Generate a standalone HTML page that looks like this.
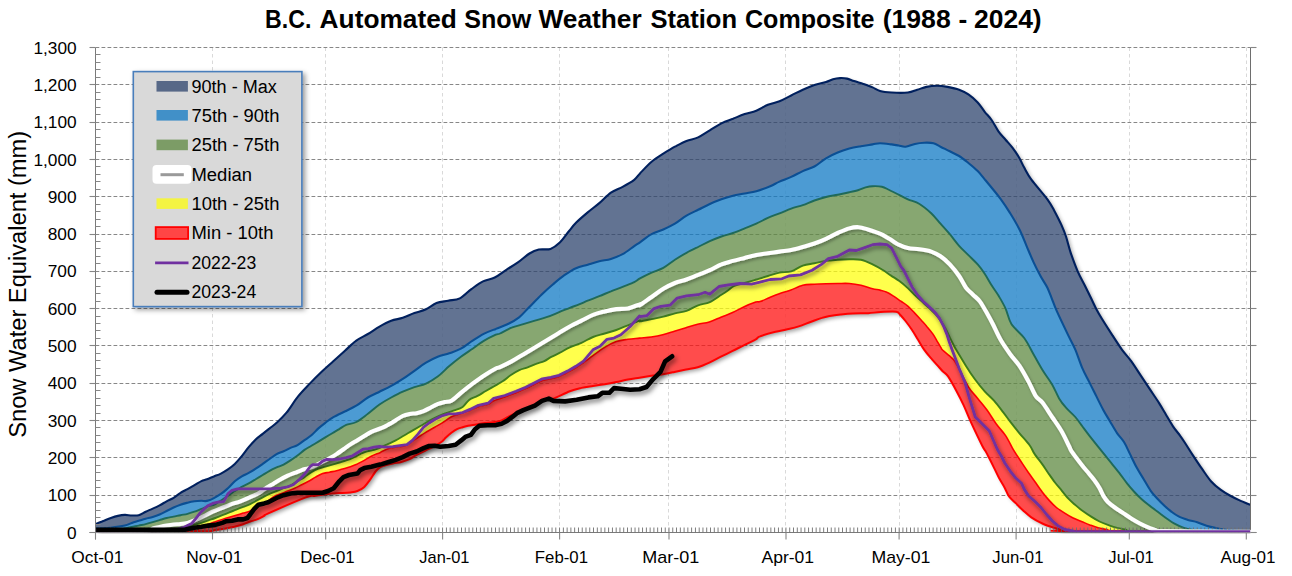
<!DOCTYPE html>
<html><head><meta charset="utf-8"><title>B.C. Automated Snow Weather Station Composite</title>
<style>
html,body{margin:0;padding:0;background:#fff;}
svg{display:block;}
text{font-family:"Liberation Sans",sans-serif;fill:#000;}
.tk{font-size:17px;}
.lg{font-size:18px;}
</style></head><body>
<svg width="1292" height="576" viewBox="0 0 1292 576">
<defs>
<filter id="sh" x="-5%" y="-5%" width="110%" height="115%"><feGaussianBlur stdDeviation="2.2"/></filter>
<filter id="lsh" x="-5%" y="-20%" width="110%" height="140%"><feDropShadow dx="1.5" dy="2" stdDeviation="1.8" flood-color="#000" flood-opacity="0.3"/></filter>
<filter id="bsh" x="-5%" y="-5%" width="112%" height="112%"><feDropShadow dx="2.5" dy="2.5" stdDeviation="2.5" flood-color="#000" flood-opacity="0.4"/></filter>

<clipPath id="un"><path d="M95.6,524.2C95.9,524.0 96.3,523.7 97.7,523.1C99.1,522.5 101.7,521.6 103.9,520.8C106.1,519.9 108.6,518.8 110.9,518.0C113.2,517.2 115.6,516.4 117.9,515.9C120.2,515.4 122.5,515.0 124.8,514.9C127.1,514.8 129.5,515.5 131.8,515.5C134.1,515.5 136.4,515.8 138.7,515.2C141.0,514.6 143.4,512.8 145.7,511.7C148.0,510.6 150.4,509.7 152.7,508.6C155.0,507.6 157.3,506.6 159.6,505.4C161.9,504.2 164.3,502.6 166.6,501.3C168.9,500.0 171.3,499.2 173.6,497.8C175.9,496.4 178.2,494.3 180.5,492.9C182.8,491.4 185.2,490.4 187.5,489.1C189.8,487.8 192.2,486.5 194.5,485.2C196.8,483.9 199.3,482.1 201.4,481.1C203.5,480.1 204.9,480.0 207.0,479.2C209.1,478.4 211.6,477.3 213.9,476.4C216.2,475.5 218.6,474.8 220.9,473.6C223.2,472.4 225.6,471.0 227.9,469.4C230.2,467.8 232.5,466.1 234.8,463.9C237.1,461.7 239.5,459.0 241.8,456.2C244.1,453.4 246.4,450.0 248.7,447.2C251.0,444.4 253.4,441.7 255.7,439.5C258.0,437.3 260.4,435.8 262.7,433.9C265.0,432.0 267.3,430.2 269.6,428.4C271.9,426.5 273.8,425.4 276.6,422.8C279.4,420.2 282.9,417.1 286.5,412.7C290.1,408.3 294.2,401.2 298.1,396.4C302.0,391.5 305.9,387.7 309.8,383.6C313.7,379.5 317.5,375.7 321.4,372.0C325.3,368.3 329.1,365.0 333.0,361.5C336.9,358.0 340.8,354.5 344.7,351.0C348.6,347.5 352.4,343.4 356.3,340.6C360.2,337.8 364.0,336.3 367.9,334.0C371.8,331.7 375.6,328.8 379.5,326.6C383.4,324.4 387.3,322.3 391.2,320.8C395.1,319.3 398.9,319.1 402.8,317.8C406.7,316.5 410.5,314.5 414.4,313.1C418.3,311.7 422.3,310.9 426.0,309.2C429.7,307.5 432.8,304.5 436.5,303.1C440.2,301.7 444.2,301.5 448.1,300.7C452.0,299.9 455.9,300.3 459.8,298.4C463.7,296.5 467.5,291.9 471.4,289.1C475.3,286.3 479.1,283.3 483.0,281.4C486.9,279.5 490.8,279.4 494.7,277.5C498.6,275.6 502.4,272.3 506.3,269.8C510.2,267.3 514.0,265.1 517.9,262.4C521.8,259.7 526.0,255.6 529.5,253.5C533.0,251.4 535.3,250.4 538.8,249.6C542.3,248.8 547.0,250.1 550.5,248.9C554.0,247.7 556.7,245.6 559.8,242.6C562.9,239.6 566.4,234.3 569.1,231.0C571.8,227.7 572.9,225.9 576.0,222.8C579.1,219.7 583.8,215.7 587.7,212.4C591.6,209.1 595.4,206.4 599.3,203.1C603.2,199.8 607.0,195.3 610.9,192.6C614.8,189.9 618.7,188.9 622.6,186.8C626.5,184.7 631.3,182.0 634.2,179.8C637.1,177.6 637.1,176.4 640.0,173.4C642.9,170.4 647.7,165.1 651.6,161.8C655.5,158.5 659.4,156.2 663.3,153.7C667.2,151.2 671.0,148.8 674.9,146.7C678.8,144.6 682.6,142.4 686.5,140.9C690.4,139.4 694.2,139.2 698.1,137.4C702.0,135.7 705.9,132.7 709.8,130.4C713.7,128.1 717.5,125.3 721.4,123.4C725.3,121.5 729.1,120.3 733.0,118.8C736.9,117.2 740.8,115.4 744.7,114.1C748.6,112.8 752.4,112.2 756.3,110.7C760.2,109.2 764.0,106.4 767.9,104.8C771.8,103.2 775.6,102.8 779.5,101.3C783.4,99.8 787.3,97.4 791.2,95.5C795.1,93.6 798.9,91.4 802.8,89.7C806.7,88.0 810.5,86.4 814.4,85.1C818.3,83.8 822.9,83.0 826.0,82.0C829.1,81.0 830.7,80.0 833.0,79.3C835.3,78.6 837.7,78.2 840.0,78.1C842.3,78.0 844.7,78.1 847.0,78.6C849.3,79.1 851.3,80.2 854.0,81.1C856.7,82.0 860.2,82.9 863.3,83.9C866.4,85.0 869.8,86.2 872.6,87.4C875.4,88.6 876.8,90.1 880.0,90.9C883.2,91.8 887.0,92.2 891.6,92.5C896.2,92.8 903.6,93.0 907.9,92.5C912.2,92.0 914.1,90.6 917.2,89.7C920.3,88.8 923.2,87.6 926.5,86.9C929.8,86.2 933.5,85.8 937.0,85.8C940.5,85.8 943.7,86.2 947.4,86.9C951.1,87.6 955.6,88.5 959.1,89.7C962.6,91.0 965.3,92.3 968.4,94.4C971.5,96.5 975.0,99.6 977.7,102.5C980.4,105.4 982.4,108.9 984.7,111.8C987.0,114.7 989.3,116.7 991.6,120.0C993.9,123.3 996.3,128.3 998.6,131.6C1000.9,134.9 1003.3,137.0 1005.6,139.7C1007.9,142.4 1010.3,144.8 1012.6,147.9C1014.9,151.0 1017.6,155.0 1019.5,158.3C1021.4,161.6 1022.2,164.1 1024.2,167.6C1026.2,171.1 1027.3,174.0 1031.2,179.3C1035.1,184.6 1043.5,194.0 1047.4,199.3C1051.3,204.6 1052.1,206.6 1054.4,210.9C1056.7,215.2 1059.5,220.6 1061.4,224.9C1063.3,229.2 1064.5,231.8 1066.0,236.5C1067.5,241.2 1068.8,247.0 1070.7,252.8C1072.7,258.6 1075.4,266.0 1077.7,271.4C1080.0,276.8 1082.4,280.6 1084.7,285.3C1087.0,290.0 1089.3,294.6 1091.6,299.3C1093.9,304.0 1095.1,307.2 1098.6,313.3C1102.1,319.4 1108.7,329.6 1112.6,335.6C1116.5,341.7 1118.8,345.3 1121.9,349.6C1125.0,353.9 1128.1,356.9 1131.2,361.2C1134.3,365.5 1137.4,370.5 1140.5,375.2C1143.6,379.9 1146.7,384.5 1149.8,389.1C1152.9,393.8 1156.4,398.8 1159.1,403.1C1161.8,407.4 1163.7,410.8 1166.0,414.7C1168.3,418.6 1170.7,422.8 1173.0,426.3C1175.3,429.8 1178.1,433.0 1180.0,435.6C1181.9,438.2 1182.3,438.8 1184.4,442.0C1186.5,445.2 1189.7,450.4 1192.6,454.8C1195.5,459.2 1198.8,464.2 1201.9,468.7C1205.0,473.1 1208.1,478.0 1211.2,481.5C1214.3,485.0 1217.4,487.4 1220.5,489.7C1223.6,492.0 1226.7,493.8 1229.8,495.5C1232.9,497.2 1235.7,498.6 1239.1,500.1C1242.5,501.7 1248.3,504.0 1250.2,504.8L1250.2,531.8C1219.5,531.7 1097.5,531.4 1066.1,531.1C1034.7,530.8 1064.0,530.7 1061.9,530.1C1059.8,529.5 1056.8,528.8 1053.6,527.7C1050.3,526.6 1046.1,525.2 1042.4,523.5C1038.7,521.8 1034.5,519.5 1031.3,517.3C1028.0,515.1 1025.5,512.6 1022.9,510.3C1020.4,508.0 1018.3,505.7 1016.0,503.4C1013.7,501.1 1010.9,499.0 1009.0,496.4C1007.1,493.8 1006.4,491.0 1004.8,488.0C1003.2,485.0 1001.1,481.8 999.2,478.3C997.4,474.8 995.6,470.8 993.7,467.1C991.9,463.4 989.5,458.6 988.1,456.0C986.8,453.4 986.6,453.1 985.6,451.3C984.6,449.6 984.6,450.4 982.1,445.5C979.6,440.6 973.8,428.4 970.7,421.7C967.6,415.0 966.0,410.4 963.7,405.4C961.4,400.3 959.3,396.2 956.7,391.4C954.1,386.6 950.4,379.8 948.1,376.4C945.8,373.0 944.6,373.3 942.7,371.3C940.8,369.3 938.6,366.6 936.5,364.3C934.4,362.0 932.4,359.8 930.3,357.3C928.2,354.9 926.2,352.6 924.1,349.6C922.0,346.6 920.0,342.9 917.9,339.5C915.8,336.1 913.8,332.6 911.7,329.5C909.6,326.4 907.4,323.4 905.5,321.0C903.6,318.6 901.6,316.4 900.1,314.8C898.6,313.2 899.4,312.2 896.2,311.7C893.0,311.2 885.3,311.8 880.7,312.0C876.1,312.2 873.0,312.9 868.4,313.2C863.8,313.4 857.5,313.3 852.9,313.5C848.2,313.7 844.4,314.1 840.5,314.5C836.6,314.9 832.8,315.4 829.7,316.0C826.6,316.6 825.0,316.9 821.9,317.9C818.8,318.8 815.0,320.3 811.1,321.7C807.2,323.1 802.8,325.1 798.7,326.4C794.6,327.7 790.2,328.6 786.3,329.5C782.4,330.4 779.9,330.7 775.5,331.8C771.1,332.9 763.3,335.1 760.0,336.4C756.7,337.6 758.4,337.9 755.8,339.3C753.2,340.8 748.1,343.2 744.2,345.1C740.3,347.0 736.5,349.0 732.6,350.9C728.7,352.8 724.8,354.8 720.9,356.7C717.0,358.6 713.2,360.9 709.3,362.6C705.4,364.4 701.6,366.1 697.7,367.2C693.8,368.3 689.9,368.7 686.0,369.5C682.1,370.3 678.3,371.1 674.4,371.9C670.5,372.7 666.7,373.5 662.8,374.2C658.9,374.9 655.1,375.2 651.2,375.8C647.3,376.4 643.4,377.1 639.5,377.7C635.6,378.3 631.8,378.8 627.9,379.5C624.0,380.2 620.2,381.3 616.3,382.1C612.4,382.9 608.6,383.6 604.7,384.2C600.8,384.8 596.9,385.4 593.0,386.0C589.1,386.6 585.3,387.0 581.4,387.9C577.5,388.8 574.4,389.4 569.8,391.2C565.1,393.0 557.0,397.4 553.5,398.6C550.0,399.8 550.7,398.2 548.8,398.6C546.9,399.0 544.2,399.7 541.9,400.9C539.6,402.1 538.0,404.1 534.9,405.6C531.8,407.2 526.8,408.8 523.3,410.2C519.8,411.6 516.8,412.7 514.1,413.9C511.4,415.1 509.4,416.2 507.1,417.4C504.8,418.6 502.5,420.1 500.2,420.9C497.9,421.7 495.8,421.9 493.2,422.3C490.6,422.7 487.6,422.6 484.8,423.0C482.0,423.4 479.3,423.9 476.5,424.4C473.7,424.9 470.4,425.3 468.1,425.8C465.8,426.3 464.5,426.6 462.6,427.2C460.8,427.8 458.9,428.3 457.0,429.2C455.1,430.1 453.3,431.3 451.4,432.7C449.5,434.1 447.4,436.1 445.8,437.6C444.2,439.1 443.6,440.4 441.7,441.8C439.8,443.2 437.2,444.6 434.7,446.0C432.1,447.4 428.7,449.0 426.4,450.1C424.1,451.2 422.7,452.0 420.8,452.9C418.9,453.8 417.1,454.6 415.2,455.7C413.3,456.8 411.9,458.1 409.6,459.2C407.3,460.2 404.1,461.3 401.3,462.0C398.5,462.7 395.7,462.8 392.9,463.4C390.1,464.0 386.8,464.8 384.6,465.5C382.4,466.2 381.4,466.4 379.9,467.4C378.4,468.4 377.2,469.4 375.5,471.5C373.8,473.6 371.8,477.3 369.9,479.9C368.0,482.5 366.4,485.0 364.3,486.9C362.2,488.8 359.7,490.1 357.4,491.0C355.1,491.9 353.4,492.0 350.4,492.4C347.4,492.8 342.8,492.9 339.3,493.1C335.8,493.3 332.3,493.5 329.5,493.8C326.7,494.1 325.2,494.5 322.6,494.8C320.1,495.1 317.0,495.5 314.2,495.9C311.4,496.3 313.4,494.5 305.8,497.4C298.2,500.3 275.2,510.3 268.3,513.4C261.4,516.5 266.0,514.9 264.1,515.9C262.2,516.9 259.4,518.5 257.1,519.4C254.8,520.3 252.5,520.7 250.2,521.5C247.9,522.3 245.5,523.4 243.2,524.2C240.9,525.0 238.5,525.7 236.2,526.3C233.9,526.9 231.6,527.2 229.3,527.7C227.0,528.2 225.1,528.6 222.3,529.1C219.5,529.6 216.1,530.1 212.6,530.5C209.1,530.9 220.9,531.0 201.4,531.2C181.9,531.4 113.2,531.5 95.6,531.6Z"/></clipPath>
<clipPath id="plot"><rect x="95.5" y="45.5" width="1155.0" height="488.2"/></clipPath>
<clipPath id="plot2"><rect x="96.1" y="45.5" width="1155.0" height="486.7"/></clipPath>
<filter id="psh" x="-5%" y="-20%" width="110%" height="140%"><feDropShadow dx="1.5" dy="2.5" stdDeviation="2.2" flood-color="#000" flood-opacity="0.5"/></filter>
<filter id="ksh" x="-5%" y="-20%" width="110%" height="140%"><feDropShadow dx="2" dy="3" stdDeviation="2.4" flood-color="#000" flood-opacity="0.5"/></filter>
</defs>
<rect width="1292" height="576" fill="#fff"/>
<g id="grid"><line x1="212.5" y1="47.5" x2="212.5" y2="531.7" stroke="#d9d9d9" stroke-width="1" stroke-dasharray="3.5 3"/>
<line x1="325.5" y1="47.5" x2="325.5" y2="531.7" stroke="#d9d9d9" stroke-width="1" stroke-dasharray="3.5 3"/>
<line x1="442.5" y1="47.5" x2="442.5" y2="531.7" stroke="#d9d9d9" stroke-width="1" stroke-dasharray="3.5 3"/>
<line x1="559.5" y1="47.5" x2="559.5" y2="531.7" stroke="#d9d9d9" stroke-width="1" stroke-dasharray="3.5 3"/>
<line x1="668.5" y1="47.5" x2="668.5" y2="531.7" stroke="#d9d9d9" stroke-width="1" stroke-dasharray="3.5 3"/>
<line x1="785.5" y1="47.5" x2="785.5" y2="531.7" stroke="#d9d9d9" stroke-width="1" stroke-dasharray="3.5 3"/>
<line x1="899.5" y1="47.5" x2="899.5" y2="531.7" stroke="#d9d9d9" stroke-width="1" stroke-dasharray="3.5 3"/>
<line x1="1016.5" y1="47.5" x2="1016.5" y2="531.7" stroke="#d9d9d9" stroke-width="1" stroke-dasharray="3.5 3"/>
<line x1="1129.5" y1="47.5" x2="1129.5" y2="531.7" stroke="#d9d9d9" stroke-width="1" stroke-dasharray="3.5 3"/>
<line x1="1246.5" y1="47.5" x2="1246.5" y2="531.7" stroke="#d9d9d9" stroke-width="1" stroke-dasharray="3.5 3"/>
<line x1="95.5" y1="495.5" x2="1250.5" y2="495.5" stroke="#878787" stroke-width="1" stroke-dasharray="3.8 2.2"/>
<line x1="95.5" y1="457.5" x2="1250.5" y2="457.5" stroke="#878787" stroke-width="1" stroke-dasharray="3.8 2.2"/>
<line x1="95.5" y1="420.5" x2="1250.5" y2="420.5" stroke="#878787" stroke-width="1" stroke-dasharray="3.8 2.2"/>
<line x1="95.5" y1="383.5" x2="1250.5" y2="383.5" stroke="#878787" stroke-width="1" stroke-dasharray="3.8 2.2"/>
<line x1="95.5" y1="345.5" x2="1250.5" y2="345.5" stroke="#878787" stroke-width="1" stroke-dasharray="3.8 2.2"/>
<line x1="95.5" y1="308.5" x2="1250.5" y2="308.5" stroke="#878787" stroke-width="1" stroke-dasharray="3.8 2.2"/>
<line x1="95.5" y1="271.5" x2="1250.5" y2="271.5" stroke="#878787" stroke-width="1" stroke-dasharray="3.8 2.2"/>
<line x1="95.5" y1="234.5" x2="1250.5" y2="234.5" stroke="#878787" stroke-width="1" stroke-dasharray="3.8 2.2"/>
<line x1="95.5" y1="196.5" x2="1250.5" y2="196.5" stroke="#878787" stroke-width="1" stroke-dasharray="3.8 2.2"/>
<line x1="95.5" y1="159.5" x2="1250.5" y2="159.5" stroke="#878787" stroke-width="1" stroke-dasharray="3.8 2.2"/>
<line x1="95.5" y1="122.5" x2="1250.5" y2="122.5" stroke="#878787" stroke-width="1" stroke-dasharray="3.8 2.2"/>
<line x1="95.5" y1="84.5" x2="1250.5" y2="84.5" stroke="#878787" stroke-width="1" stroke-dasharray="3.8 2.2"/>
<line x1="95.5" y1="47.5" x2="1250.5" y2="47.5" stroke="#878787" stroke-width="1" stroke-dasharray="3.8 2.2"/></g>
<g clip-path="url(#plot)"><path d="M95.6,524.2C95.9,524.0 96.3,523.7 97.7,523.1C99.1,522.5 101.7,521.6 103.9,520.8C106.1,519.9 108.6,518.8 110.9,518.0C113.2,517.2 115.6,516.4 117.9,515.9C120.2,515.4 122.5,515.0 124.8,514.9C127.1,514.8 129.5,515.5 131.8,515.5C134.1,515.5 136.4,515.8 138.7,515.2C141.0,514.6 143.4,512.8 145.7,511.7C148.0,510.6 150.4,509.7 152.7,508.6C155.0,507.6 157.3,506.6 159.6,505.4C161.9,504.2 164.3,502.6 166.6,501.3C168.9,500.0 171.3,499.2 173.6,497.8C175.9,496.4 178.2,494.3 180.5,492.9C182.8,491.4 185.2,490.4 187.5,489.1C189.8,487.8 192.2,486.5 194.5,485.2C196.8,483.9 199.3,482.1 201.4,481.1C203.5,480.1 204.9,480.0 207.0,479.2C209.1,478.4 211.6,477.3 213.9,476.4C216.2,475.5 218.6,474.8 220.9,473.6C223.2,472.4 225.6,471.0 227.9,469.4C230.2,467.8 232.5,466.1 234.8,463.9C237.1,461.7 239.5,459.0 241.8,456.2C244.1,453.4 246.4,450.0 248.7,447.2C251.0,444.4 253.4,441.7 255.7,439.5C258.0,437.3 260.4,435.8 262.7,433.9C265.0,432.0 267.3,430.2 269.6,428.4C271.9,426.5 273.8,425.4 276.6,422.8C279.4,420.2 282.9,417.1 286.5,412.7C290.1,408.3 294.2,401.2 298.1,396.4C302.0,391.5 305.9,387.7 309.8,383.6C313.7,379.5 317.5,375.7 321.4,372.0C325.3,368.3 329.1,365.0 333.0,361.5C336.9,358.0 340.8,354.5 344.7,351.0C348.6,347.5 352.4,343.4 356.3,340.6C360.2,337.8 364.0,336.3 367.9,334.0C371.8,331.7 375.6,328.8 379.5,326.6C383.4,324.4 387.3,322.3 391.2,320.8C395.1,319.3 398.9,319.1 402.8,317.8C406.7,316.5 410.5,314.5 414.4,313.1C418.3,311.7 422.3,310.9 426.0,309.2C429.7,307.5 432.8,304.5 436.5,303.1C440.2,301.7 444.2,301.5 448.1,300.7C452.0,299.9 455.9,300.3 459.8,298.4C463.7,296.5 467.5,291.9 471.4,289.1C475.3,286.3 479.1,283.3 483.0,281.4C486.9,279.5 490.8,279.4 494.7,277.5C498.6,275.6 502.4,272.3 506.3,269.8C510.2,267.3 514.0,265.1 517.9,262.4C521.8,259.7 526.0,255.6 529.5,253.5C533.0,251.4 535.3,250.4 538.8,249.6C542.3,248.8 547.0,250.1 550.5,248.9C554.0,247.7 556.7,245.6 559.8,242.6C562.9,239.6 566.4,234.3 569.1,231.0C571.8,227.7 572.9,225.9 576.0,222.8C579.1,219.7 583.8,215.7 587.7,212.4C591.6,209.1 595.4,206.4 599.3,203.1C603.2,199.8 607.0,195.3 610.9,192.6C614.8,189.9 618.7,188.9 622.6,186.8C626.5,184.7 631.3,182.0 634.2,179.8C637.1,177.6 637.1,176.4 640.0,173.4C642.9,170.4 647.7,165.1 651.6,161.8C655.5,158.5 659.4,156.2 663.3,153.7C667.2,151.2 671.0,148.8 674.9,146.7C678.8,144.6 682.6,142.4 686.5,140.9C690.4,139.4 694.2,139.2 698.1,137.4C702.0,135.7 705.9,132.7 709.8,130.4C713.7,128.1 717.5,125.3 721.4,123.4C725.3,121.5 729.1,120.3 733.0,118.8C736.9,117.2 740.8,115.4 744.7,114.1C748.6,112.8 752.4,112.2 756.3,110.7C760.2,109.2 764.0,106.4 767.9,104.8C771.8,103.2 775.6,102.8 779.5,101.3C783.4,99.8 787.3,97.4 791.2,95.5C795.1,93.6 798.9,91.4 802.8,89.7C806.7,88.0 810.5,86.4 814.4,85.1C818.3,83.8 822.9,83.0 826.0,82.0C829.1,81.0 830.7,80.0 833.0,79.3C835.3,78.6 837.7,78.2 840.0,78.1C842.3,78.0 844.7,78.1 847.0,78.6C849.3,79.1 851.3,80.2 854.0,81.1C856.7,82.0 860.2,82.9 863.3,83.9C866.4,85.0 869.8,86.2 872.6,87.4C875.4,88.6 876.8,90.1 880.0,90.9C883.2,91.8 887.0,92.2 891.6,92.5C896.2,92.8 903.6,93.0 907.9,92.5C912.2,92.0 914.1,90.6 917.2,89.7C920.3,88.8 923.2,87.6 926.5,86.9C929.8,86.2 933.5,85.8 937.0,85.8C940.5,85.8 943.7,86.2 947.4,86.9C951.1,87.6 955.6,88.5 959.1,89.7C962.6,91.0 965.3,92.3 968.4,94.4C971.5,96.5 975.0,99.6 977.7,102.5C980.4,105.4 982.4,108.9 984.7,111.8C987.0,114.7 989.3,116.7 991.6,120.0C993.9,123.3 996.3,128.3 998.6,131.6C1000.9,134.9 1003.3,137.0 1005.6,139.7C1007.9,142.4 1010.3,144.8 1012.6,147.9C1014.9,151.0 1017.6,155.0 1019.5,158.3C1021.4,161.6 1022.2,164.1 1024.2,167.6C1026.2,171.1 1027.3,174.0 1031.2,179.3C1035.1,184.6 1043.5,194.0 1047.4,199.3C1051.3,204.6 1052.1,206.6 1054.4,210.9C1056.7,215.2 1059.5,220.6 1061.4,224.9C1063.3,229.2 1064.5,231.8 1066.0,236.5C1067.5,241.2 1068.8,247.0 1070.7,252.8C1072.7,258.6 1075.4,266.0 1077.7,271.4C1080.0,276.8 1082.4,280.6 1084.7,285.3C1087.0,290.0 1089.3,294.6 1091.6,299.3C1093.9,304.0 1095.1,307.2 1098.6,313.3C1102.1,319.4 1108.7,329.6 1112.6,335.6C1116.5,341.7 1118.8,345.3 1121.9,349.6C1125.0,353.9 1128.1,356.9 1131.2,361.2C1134.3,365.5 1137.4,370.5 1140.5,375.2C1143.6,379.9 1146.7,384.5 1149.8,389.1C1152.9,393.8 1156.4,398.8 1159.1,403.1C1161.8,407.4 1163.7,410.8 1166.0,414.7C1168.3,418.6 1170.7,422.8 1173.0,426.3C1175.3,429.8 1178.1,433.0 1180.0,435.6C1181.9,438.2 1182.3,438.8 1184.4,442.0C1186.5,445.2 1189.7,450.4 1192.6,454.8C1195.5,459.2 1198.8,464.2 1201.9,468.7C1205.0,473.1 1208.1,478.0 1211.2,481.5C1214.3,485.0 1217.4,487.4 1220.5,489.7C1223.6,492.0 1226.7,493.8 1229.8,495.5C1232.9,497.2 1235.7,498.6 1239.1,500.1C1242.5,501.7 1248.3,504.0 1250.2,504.8L1250.2,531.8C1219.5,531.7 1097.5,531.4 1066.1,531.1C1034.7,530.8 1064.0,530.7 1061.9,530.1C1059.8,529.5 1056.8,528.8 1053.6,527.7C1050.3,526.6 1046.1,525.2 1042.4,523.5C1038.7,521.8 1034.5,519.5 1031.3,517.3C1028.0,515.1 1025.5,512.6 1022.9,510.3C1020.4,508.0 1018.3,505.7 1016.0,503.4C1013.7,501.1 1010.9,499.0 1009.0,496.4C1007.1,493.8 1006.4,491.0 1004.8,488.0C1003.2,485.0 1001.1,481.8 999.2,478.3C997.4,474.8 995.6,470.8 993.7,467.1C991.9,463.4 989.5,458.6 988.1,456.0C986.8,453.4 986.6,453.1 985.6,451.3C984.6,449.6 984.6,450.4 982.1,445.5C979.6,440.6 973.8,428.4 970.7,421.7C967.6,415.0 966.0,410.4 963.7,405.4C961.4,400.3 959.3,396.2 956.7,391.4C954.1,386.6 950.4,379.8 948.1,376.4C945.8,373.0 944.6,373.3 942.7,371.3C940.8,369.3 938.6,366.6 936.5,364.3C934.4,362.0 932.4,359.8 930.3,357.3C928.2,354.9 926.2,352.6 924.1,349.6C922.0,346.6 920.0,342.9 917.9,339.5C915.8,336.1 913.8,332.6 911.7,329.5C909.6,326.4 907.4,323.4 905.5,321.0C903.6,318.6 901.6,316.4 900.1,314.8C898.6,313.2 899.4,312.2 896.2,311.7C893.0,311.2 885.3,311.8 880.7,312.0C876.1,312.2 873.0,312.9 868.4,313.2C863.8,313.4 857.5,313.3 852.9,313.5C848.2,313.7 844.4,314.1 840.5,314.5C836.6,314.9 832.8,315.4 829.7,316.0C826.6,316.6 825.0,316.9 821.9,317.9C818.8,318.8 815.0,320.3 811.1,321.7C807.2,323.1 802.8,325.1 798.7,326.4C794.6,327.7 790.2,328.6 786.3,329.5C782.4,330.4 779.9,330.7 775.5,331.8C771.1,332.9 763.3,335.1 760.0,336.4C756.7,337.6 758.4,337.9 755.8,339.3C753.2,340.8 748.1,343.2 744.2,345.1C740.3,347.0 736.5,349.0 732.6,350.9C728.7,352.8 724.8,354.8 720.9,356.7C717.0,358.6 713.2,360.9 709.3,362.6C705.4,364.4 701.6,366.1 697.7,367.2C693.8,368.3 689.9,368.7 686.0,369.5C682.1,370.3 678.3,371.1 674.4,371.9C670.5,372.7 666.7,373.5 662.8,374.2C658.9,374.9 655.1,375.2 651.2,375.8C647.3,376.4 643.4,377.1 639.5,377.7C635.6,378.3 631.8,378.8 627.9,379.5C624.0,380.2 620.2,381.3 616.3,382.1C612.4,382.9 608.6,383.6 604.7,384.2C600.8,384.8 596.9,385.4 593.0,386.0C589.1,386.6 585.3,387.0 581.4,387.9C577.5,388.8 574.4,389.4 569.8,391.2C565.1,393.0 557.0,397.4 553.5,398.6C550.0,399.8 550.7,398.2 548.8,398.6C546.9,399.0 544.2,399.7 541.9,400.9C539.6,402.1 538.0,404.1 534.9,405.6C531.8,407.2 526.8,408.8 523.3,410.2C519.8,411.6 516.8,412.7 514.1,413.9C511.4,415.1 509.4,416.2 507.1,417.4C504.8,418.6 502.5,420.1 500.2,420.9C497.9,421.7 495.8,421.9 493.2,422.3C490.6,422.7 487.6,422.6 484.8,423.0C482.0,423.4 479.3,423.9 476.5,424.4C473.7,424.9 470.4,425.3 468.1,425.8C465.8,426.3 464.5,426.6 462.6,427.2C460.8,427.8 458.9,428.3 457.0,429.2C455.1,430.1 453.3,431.3 451.4,432.7C449.5,434.1 447.4,436.1 445.8,437.6C444.2,439.1 443.6,440.4 441.7,441.8C439.8,443.2 437.2,444.6 434.7,446.0C432.1,447.4 428.7,449.0 426.4,450.1C424.1,451.2 422.7,452.0 420.8,452.9C418.9,453.8 417.1,454.6 415.2,455.7C413.3,456.8 411.9,458.1 409.6,459.2C407.3,460.2 404.1,461.3 401.3,462.0C398.5,462.7 395.7,462.8 392.9,463.4C390.1,464.0 386.8,464.8 384.6,465.5C382.4,466.2 381.4,466.4 379.9,467.4C378.4,468.4 377.2,469.4 375.5,471.5C373.8,473.6 371.8,477.3 369.9,479.9C368.0,482.5 366.4,485.0 364.3,486.9C362.2,488.8 359.7,490.1 357.4,491.0C355.1,491.9 353.4,492.0 350.4,492.4C347.4,492.8 342.8,492.9 339.3,493.1C335.8,493.3 332.3,493.5 329.5,493.8C326.7,494.1 325.2,494.5 322.6,494.8C320.1,495.1 317.0,495.5 314.2,495.9C311.4,496.3 313.4,494.5 305.8,497.4C298.2,500.3 275.2,510.3 268.3,513.4C261.4,516.5 266.0,514.9 264.1,515.9C262.2,516.9 259.4,518.5 257.1,519.4C254.8,520.3 252.5,520.7 250.2,521.5C247.9,522.3 245.5,523.4 243.2,524.2C240.9,525.0 238.5,525.7 236.2,526.3C233.9,526.9 231.6,527.2 229.3,527.7C227.0,528.2 225.1,528.6 222.3,529.1C219.5,529.6 216.1,530.1 212.6,530.5C209.1,530.9 220.9,531.0 201.4,531.2C181.9,531.4 113.2,531.5 95.6,531.6Z" fill="#000" opacity="0.38" filter="url(#sh)" transform="translate(2.5,2.5)"/></g>
<path d="M95.6,524.2C95.9,524.0 96.3,523.7 97.7,523.1C99.1,522.5 101.7,521.6 103.9,520.8C106.1,519.9 108.6,518.8 110.9,518.0C113.2,517.2 115.6,516.4 117.9,515.9C120.2,515.4 122.5,515.0 124.8,514.9C127.1,514.8 129.5,515.5 131.8,515.5C134.1,515.5 136.4,515.8 138.7,515.2C141.0,514.6 143.4,512.8 145.7,511.7C148.0,510.6 150.4,509.7 152.7,508.6C155.0,507.6 157.3,506.6 159.6,505.4C161.9,504.2 164.3,502.6 166.6,501.3C168.9,500.0 171.3,499.2 173.6,497.8C175.9,496.4 178.2,494.3 180.5,492.9C182.8,491.4 185.2,490.4 187.5,489.1C189.8,487.8 192.2,486.5 194.5,485.2C196.8,483.9 199.3,482.1 201.4,481.1C203.5,480.1 204.9,480.0 207.0,479.2C209.1,478.4 211.6,477.3 213.9,476.4C216.2,475.5 218.6,474.8 220.9,473.6C223.2,472.4 225.6,471.0 227.9,469.4C230.2,467.8 232.5,466.1 234.8,463.9C237.1,461.7 239.5,459.0 241.8,456.2C244.1,453.4 246.4,450.0 248.7,447.2C251.0,444.4 253.4,441.7 255.7,439.5C258.0,437.3 260.4,435.8 262.7,433.9C265.0,432.0 267.3,430.2 269.6,428.4C271.9,426.5 273.8,425.4 276.6,422.8C279.4,420.2 282.9,417.1 286.5,412.7C290.1,408.3 294.2,401.2 298.1,396.4C302.0,391.5 305.9,387.7 309.8,383.6C313.7,379.5 317.5,375.7 321.4,372.0C325.3,368.3 329.1,365.0 333.0,361.5C336.9,358.0 340.8,354.5 344.7,351.0C348.6,347.5 352.4,343.4 356.3,340.6C360.2,337.8 364.0,336.3 367.9,334.0C371.8,331.7 375.6,328.8 379.5,326.6C383.4,324.4 387.3,322.3 391.2,320.8C395.1,319.3 398.9,319.1 402.8,317.8C406.7,316.5 410.5,314.5 414.4,313.1C418.3,311.7 422.3,310.9 426.0,309.2C429.7,307.5 432.8,304.5 436.5,303.1C440.2,301.7 444.2,301.5 448.1,300.7C452.0,299.9 455.9,300.3 459.8,298.4C463.7,296.5 467.5,291.9 471.4,289.1C475.3,286.3 479.1,283.3 483.0,281.4C486.9,279.5 490.8,279.4 494.7,277.5C498.6,275.6 502.4,272.3 506.3,269.8C510.2,267.3 514.0,265.1 517.9,262.4C521.8,259.7 526.0,255.6 529.5,253.5C533.0,251.4 535.3,250.4 538.8,249.6C542.3,248.8 547.0,250.1 550.5,248.9C554.0,247.7 556.7,245.6 559.8,242.6C562.9,239.6 566.4,234.3 569.1,231.0C571.8,227.7 572.9,225.9 576.0,222.8C579.1,219.7 583.8,215.7 587.7,212.4C591.6,209.1 595.4,206.4 599.3,203.1C603.2,199.8 607.0,195.3 610.9,192.6C614.8,189.9 618.7,188.9 622.6,186.8C626.5,184.7 631.3,182.0 634.2,179.8C637.1,177.6 637.1,176.4 640.0,173.4C642.9,170.4 647.7,165.1 651.6,161.8C655.5,158.5 659.4,156.2 663.3,153.7C667.2,151.2 671.0,148.8 674.9,146.7C678.8,144.6 682.6,142.4 686.5,140.9C690.4,139.4 694.2,139.2 698.1,137.4C702.0,135.7 705.9,132.7 709.8,130.4C713.7,128.1 717.5,125.3 721.4,123.4C725.3,121.5 729.1,120.3 733.0,118.8C736.9,117.2 740.8,115.4 744.7,114.1C748.6,112.8 752.4,112.2 756.3,110.7C760.2,109.2 764.0,106.4 767.9,104.8C771.8,103.2 775.6,102.8 779.5,101.3C783.4,99.8 787.3,97.4 791.2,95.5C795.1,93.6 798.9,91.4 802.8,89.7C806.7,88.0 810.5,86.4 814.4,85.1C818.3,83.8 822.9,83.0 826.0,82.0C829.1,81.0 830.7,80.0 833.0,79.3C835.3,78.6 837.7,78.2 840.0,78.1C842.3,78.0 844.7,78.1 847.0,78.6C849.3,79.1 851.3,80.2 854.0,81.1C856.7,82.0 860.2,82.9 863.3,83.9C866.4,85.0 869.8,86.2 872.6,87.4C875.4,88.6 876.8,90.1 880.0,90.9C883.2,91.8 887.0,92.2 891.6,92.5C896.2,92.8 903.6,93.0 907.9,92.5C912.2,92.0 914.1,90.6 917.2,89.7C920.3,88.8 923.2,87.6 926.5,86.9C929.8,86.2 933.5,85.8 937.0,85.8C940.5,85.8 943.7,86.2 947.4,86.9C951.1,87.6 955.6,88.5 959.1,89.7C962.6,91.0 965.3,92.3 968.4,94.4C971.5,96.5 975.0,99.6 977.7,102.5C980.4,105.4 982.4,108.9 984.7,111.8C987.0,114.7 989.3,116.7 991.6,120.0C993.9,123.3 996.3,128.3 998.6,131.6C1000.9,134.9 1003.3,137.0 1005.6,139.7C1007.9,142.4 1010.3,144.8 1012.6,147.9C1014.9,151.0 1017.6,155.0 1019.5,158.3C1021.4,161.6 1022.2,164.1 1024.2,167.6C1026.2,171.1 1027.3,174.0 1031.2,179.3C1035.1,184.6 1043.5,194.0 1047.4,199.3C1051.3,204.6 1052.1,206.6 1054.4,210.9C1056.7,215.2 1059.5,220.6 1061.4,224.9C1063.3,229.2 1064.5,231.8 1066.0,236.5C1067.5,241.2 1068.8,247.0 1070.7,252.8C1072.7,258.6 1075.4,266.0 1077.7,271.4C1080.0,276.8 1082.4,280.6 1084.7,285.3C1087.0,290.0 1089.3,294.6 1091.6,299.3C1093.9,304.0 1095.1,307.2 1098.6,313.3C1102.1,319.4 1108.7,329.6 1112.6,335.6C1116.5,341.7 1118.8,345.3 1121.9,349.6C1125.0,353.9 1128.1,356.9 1131.2,361.2C1134.3,365.5 1137.4,370.5 1140.5,375.2C1143.6,379.9 1146.7,384.5 1149.8,389.1C1152.9,393.8 1156.4,398.8 1159.1,403.1C1161.8,407.4 1163.7,410.8 1166.0,414.7C1168.3,418.6 1170.7,422.8 1173.0,426.3C1175.3,429.8 1178.1,433.0 1180.0,435.6C1181.9,438.2 1182.3,438.8 1184.4,442.0C1186.5,445.2 1189.7,450.4 1192.6,454.8C1195.5,459.2 1198.8,464.2 1201.9,468.7C1205.0,473.1 1208.1,478.0 1211.2,481.5C1214.3,485.0 1217.4,487.4 1220.5,489.7C1223.6,492.0 1226.7,493.8 1229.8,495.5C1232.9,497.2 1235.7,498.6 1239.1,500.1C1242.5,501.7 1248.3,504.0 1250.2,504.8L1250.2,531.8C1219.5,531.7 1097.5,531.4 1066.1,531.1C1034.7,530.8 1064.0,530.7 1061.9,530.1C1059.8,529.5 1056.8,528.8 1053.6,527.7C1050.3,526.6 1046.1,525.2 1042.4,523.5C1038.7,521.8 1034.5,519.5 1031.3,517.3C1028.0,515.1 1025.5,512.6 1022.9,510.3C1020.4,508.0 1018.3,505.7 1016.0,503.4C1013.7,501.1 1010.9,499.0 1009.0,496.4C1007.1,493.8 1006.4,491.0 1004.8,488.0C1003.2,485.0 1001.1,481.8 999.2,478.3C997.4,474.8 995.6,470.8 993.7,467.1C991.9,463.4 989.5,458.6 988.1,456.0C986.8,453.4 986.6,453.1 985.6,451.3C984.6,449.6 984.6,450.4 982.1,445.5C979.6,440.6 973.8,428.4 970.7,421.7C967.6,415.0 966.0,410.4 963.7,405.4C961.4,400.3 959.3,396.2 956.7,391.4C954.1,386.6 950.4,379.8 948.1,376.4C945.8,373.0 944.6,373.3 942.7,371.3C940.8,369.3 938.6,366.6 936.5,364.3C934.4,362.0 932.4,359.8 930.3,357.3C928.2,354.9 926.2,352.6 924.1,349.6C922.0,346.6 920.0,342.9 917.9,339.5C915.8,336.1 913.8,332.6 911.7,329.5C909.6,326.4 907.4,323.4 905.5,321.0C903.6,318.6 901.6,316.4 900.1,314.8C898.6,313.2 899.4,312.2 896.2,311.7C893.0,311.2 885.3,311.8 880.7,312.0C876.1,312.2 873.0,312.9 868.4,313.2C863.8,313.4 857.5,313.3 852.9,313.5C848.2,313.7 844.4,314.1 840.5,314.5C836.6,314.9 832.8,315.4 829.7,316.0C826.6,316.6 825.0,316.9 821.9,317.9C818.8,318.8 815.0,320.3 811.1,321.7C807.2,323.1 802.8,325.1 798.7,326.4C794.6,327.7 790.2,328.6 786.3,329.5C782.4,330.4 779.9,330.7 775.5,331.8C771.1,332.9 763.3,335.1 760.0,336.4C756.7,337.6 758.4,337.9 755.8,339.3C753.2,340.8 748.1,343.2 744.2,345.1C740.3,347.0 736.5,349.0 732.6,350.9C728.7,352.8 724.8,354.8 720.9,356.7C717.0,358.6 713.2,360.9 709.3,362.6C705.4,364.4 701.6,366.1 697.7,367.2C693.8,368.3 689.9,368.7 686.0,369.5C682.1,370.3 678.3,371.1 674.4,371.9C670.5,372.7 666.7,373.5 662.8,374.2C658.9,374.9 655.1,375.2 651.2,375.8C647.3,376.4 643.4,377.1 639.5,377.7C635.6,378.3 631.8,378.8 627.9,379.5C624.0,380.2 620.2,381.3 616.3,382.1C612.4,382.9 608.6,383.6 604.7,384.2C600.8,384.8 596.9,385.4 593.0,386.0C589.1,386.6 585.3,387.0 581.4,387.9C577.5,388.8 574.4,389.4 569.8,391.2C565.1,393.0 557.0,397.4 553.5,398.6C550.0,399.8 550.7,398.2 548.8,398.6C546.9,399.0 544.2,399.7 541.9,400.9C539.6,402.1 538.0,404.1 534.9,405.6C531.8,407.2 526.8,408.8 523.3,410.2C519.8,411.6 516.8,412.7 514.1,413.9C511.4,415.1 509.4,416.2 507.1,417.4C504.8,418.6 502.5,420.1 500.2,420.9C497.9,421.7 495.8,421.9 493.2,422.3C490.6,422.7 487.6,422.6 484.8,423.0C482.0,423.4 479.3,423.9 476.5,424.4C473.7,424.9 470.4,425.3 468.1,425.8C465.8,426.3 464.5,426.6 462.6,427.2C460.8,427.8 458.9,428.3 457.0,429.2C455.1,430.1 453.3,431.3 451.4,432.7C449.5,434.1 447.4,436.1 445.8,437.6C444.2,439.1 443.6,440.4 441.7,441.8C439.8,443.2 437.2,444.6 434.7,446.0C432.1,447.4 428.7,449.0 426.4,450.1C424.1,451.2 422.7,452.0 420.8,452.9C418.9,453.8 417.1,454.6 415.2,455.7C413.3,456.8 411.9,458.1 409.6,459.2C407.3,460.2 404.1,461.3 401.3,462.0C398.5,462.7 395.7,462.8 392.9,463.4C390.1,464.0 386.8,464.8 384.6,465.5C382.4,466.2 381.4,466.4 379.9,467.4C378.4,468.4 377.2,469.4 375.5,471.5C373.8,473.6 371.8,477.3 369.9,479.9C368.0,482.5 366.4,485.0 364.3,486.9C362.2,488.8 359.7,490.1 357.4,491.0C355.1,491.9 353.4,492.0 350.4,492.4C347.4,492.8 342.8,492.9 339.3,493.1C335.8,493.3 332.3,493.5 329.5,493.8C326.7,494.1 325.2,494.5 322.6,494.8C320.1,495.1 317.0,495.5 314.2,495.9C311.4,496.3 313.4,494.5 305.8,497.4C298.2,500.3 275.2,510.3 268.3,513.4C261.4,516.5 266.0,514.9 264.1,515.9C262.2,516.9 259.4,518.5 257.1,519.4C254.8,520.3 252.5,520.7 250.2,521.5C247.9,522.3 245.5,523.4 243.2,524.2C240.9,525.0 238.5,525.7 236.2,526.3C233.9,526.9 231.6,527.2 229.3,527.7C227.0,528.2 225.1,528.6 222.3,529.1C219.5,529.6 216.1,530.1 212.6,530.5C209.1,530.9 220.9,531.0 201.4,531.2C181.9,531.4 113.2,531.5 95.6,531.6Z" fill="#fff"/>
<g clip-path="url(#un)" opacity="0.8"><line x1="212.5" y1="47.5" x2="212.5" y2="531.7" stroke="#ececec" stroke-width="1" stroke-dasharray="3.5 3"/>
<line x1="325.5" y1="47.5" x2="325.5" y2="531.7" stroke="#ececec" stroke-width="1" stroke-dasharray="3.5 3"/>
<line x1="442.5" y1="47.5" x2="442.5" y2="531.7" stroke="#ececec" stroke-width="1" stroke-dasharray="3.5 3"/>
<line x1="559.5" y1="47.5" x2="559.5" y2="531.7" stroke="#ececec" stroke-width="1" stroke-dasharray="3.5 3"/>
<line x1="668.5" y1="47.5" x2="668.5" y2="531.7" stroke="#ececec" stroke-width="1" stroke-dasharray="3.5 3"/>
<line x1="785.5" y1="47.5" x2="785.5" y2="531.7" stroke="#ececec" stroke-width="1" stroke-dasharray="3.5 3"/>
<line x1="899.5" y1="47.5" x2="899.5" y2="531.7" stroke="#ececec" stroke-width="1" stroke-dasharray="3.5 3"/>
<line x1="1016.5" y1="47.5" x2="1016.5" y2="531.7" stroke="#ececec" stroke-width="1" stroke-dasharray="3.5 3"/>
<line x1="1129.5" y1="47.5" x2="1129.5" y2="531.7" stroke="#ececec" stroke-width="1" stroke-dasharray="3.5 3"/>
<line x1="1246.5" y1="47.5" x2="1246.5" y2="531.7" stroke="#ececec" stroke-width="1" stroke-dasharray="3.5 3"/>
<line x1="95.5" y1="495.5" x2="1250.5" y2="495.5" stroke="#808080" stroke-width="1" stroke-dasharray="3.8 2.2"/>
<line x1="95.5" y1="457.5" x2="1250.5" y2="457.5" stroke="#808080" stroke-width="1" stroke-dasharray="3.8 2.2"/>
<line x1="95.5" y1="420.5" x2="1250.5" y2="420.5" stroke="#808080" stroke-width="1" stroke-dasharray="3.8 2.2"/>
<line x1="95.5" y1="383.5" x2="1250.5" y2="383.5" stroke="#808080" stroke-width="1" stroke-dasharray="3.8 2.2"/>
<line x1="95.5" y1="345.5" x2="1250.5" y2="345.5" stroke="#808080" stroke-width="1" stroke-dasharray="3.8 2.2"/>
<line x1="95.5" y1="308.5" x2="1250.5" y2="308.5" stroke="#808080" stroke-width="1" stroke-dasharray="3.8 2.2"/>
<line x1="95.5" y1="271.5" x2="1250.5" y2="271.5" stroke="#808080" stroke-width="1" stroke-dasharray="3.8 2.2"/>
<line x1="95.5" y1="234.5" x2="1250.5" y2="234.5" stroke="#808080" stroke-width="1" stroke-dasharray="3.8 2.2"/>
<line x1="95.5" y1="196.5" x2="1250.5" y2="196.5" stroke="#808080" stroke-width="1" stroke-dasharray="3.8 2.2"/>
<line x1="95.5" y1="159.5" x2="1250.5" y2="159.5" stroke="#808080" stroke-width="1" stroke-dasharray="3.8 2.2"/>
<line x1="95.5" y1="122.5" x2="1250.5" y2="122.5" stroke="#808080" stroke-width="1" stroke-dasharray="3.8 2.2"/>
<line x1="95.5" y1="84.5" x2="1250.5" y2="84.5" stroke="#808080" stroke-width="1" stroke-dasharray="3.8 2.2"/>
<line x1="95.5" y1="47.5" x2="1250.5" y2="47.5" stroke="#808080" stroke-width="1" stroke-dasharray="3.8 2.2"/></g>
<path d="M95.6,531.5C110.9,531.4 170.3,531.4 187.5,530.9C204.7,530.4 195.1,529.5 198.6,528.4C202.1,527.3 205.6,525.3 208.4,524.2C211.2,523.1 213.0,522.5 215.3,521.7C217.6,520.9 220.0,520.1 222.3,519.4C224.6,518.7 227.0,518.0 229.3,517.3C231.6,516.6 233.9,515.9 236.2,515.2C238.5,514.5 240.9,513.8 243.2,513.1C245.5,512.4 248.3,511.9 250.2,511.0C252.0,510.1 252.7,508.6 254.3,507.5C255.9,506.4 258.0,504.9 259.9,504.1C261.8,503.3 263.2,503.9 265.5,502.7C267.8,501.4 271.2,498.1 273.8,496.6C276.4,495.1 278.5,494.7 280.8,493.8C283.1,492.9 285.4,491.9 287.7,491.0C290.0,490.1 292.4,489.2 294.7,488.2C297.0,487.2 299.4,485.9 301.7,484.8C304.0,483.7 306.3,482.6 308.6,481.3C310.9,480.0 313.3,478.4 315.6,477.1C317.9,475.8 320.3,474.4 322.6,473.6C324.9,472.8 327.2,472.7 329.5,472.2C331.8,471.7 334.2,471.4 336.5,470.8C338.8,470.2 341.2,469.4 343.5,468.7C345.8,468.0 348.1,467.5 350.4,466.7C352.7,465.9 355.1,464.9 357.4,463.9C359.7,462.8 362.0,461.7 364.3,460.4C366.6,459.1 368.7,457.5 371.3,456.2C373.9,454.9 378.1,453.5 379.9,452.7C381.6,451.9 380.1,452.3 381.8,451.5C383.5,450.7 387.3,448.9 390.1,448.1C392.9,447.3 395.7,447.2 398.5,446.7C401.3,446.2 404.3,446.4 406.9,445.3C409.4,444.2 411.5,442.0 413.8,440.4C416.1,438.8 418.5,437.0 420.8,435.5C423.1,434.0 425.4,432.7 427.7,431.3C430.0,429.9 432.1,428.7 434.7,427.2C437.3,425.7 440.3,424.1 443.1,422.3C445.9,420.6 448.6,418.1 451.4,416.7C454.2,415.3 457.0,414.8 459.8,413.9C462.6,413.0 466.4,411.7 468.1,411.1C469.8,410.5 468.3,411.1 470.0,410.4C471.7,409.7 475.4,407.7 478.4,406.7C481.4,405.7 485.6,405.3 488.1,404.3C490.7,403.3 490.9,401.9 493.7,400.7C496.5,399.5 501.1,398.2 504.8,396.9C508.5,395.6 512.5,394.1 516.0,392.7C519.5,391.3 522.7,390.0 525.7,388.6C528.7,387.2 531.3,385.7 534.1,384.4C536.9,383.1 539.6,381.5 542.4,380.6C545.2,379.7 548.0,379.5 550.8,378.8C553.6,378.1 556.3,377.5 559.1,376.4C561.9,375.3 564.7,373.8 567.5,372.3C570.3,370.9 573.1,369.3 575.8,367.7C578.5,366.1 580.6,364.5 583.5,362.5C586.4,360.5 589.5,358.1 593.0,355.6C596.5,353.1 600.8,349.7 604.7,347.4C608.6,345.1 612.4,343.0 616.3,341.6C620.2,340.2 624.0,339.9 627.9,339.3C631.8,338.7 635.6,338.5 639.5,338.1C643.4,337.7 647.3,337.6 651.2,337.0C655.1,336.4 658.9,335.7 662.8,334.7C666.7,333.7 670.5,332.4 674.4,331.2C678.3,330.0 682.1,328.9 686.0,327.7C689.9,326.5 693.8,325.2 697.7,324.2C701.6,323.2 705.4,323.1 709.3,321.9C713.2,320.7 717.0,318.8 720.9,317.2C724.8,315.6 728.7,314.4 732.6,312.6C736.5,310.9 740.3,308.4 744.2,306.7C748.1,304.9 753.2,303.0 755.8,302.1C758.4,301.2 757.8,302.3 760.0,301.6C762.2,300.9 766.2,299.0 769.3,297.7C772.4,296.4 775.8,294.9 778.6,293.9C781.4,292.9 784.2,292.1 786.3,291.5C788.4,290.9 788.2,291.0 791.0,290.0C793.8,289.0 798.9,286.3 802.8,285.3C806.7,284.3 810.5,284.5 814.4,284.2C818.3,283.9 822.1,283.8 826.0,283.7C829.9,283.6 833.8,283.5 837.7,283.5C841.6,283.5 845.4,283.2 849.3,283.5C853.2,283.8 857.0,284.4 860.9,285.3C864.8,286.2 869.4,288.0 872.6,288.8C875.8,289.6 877.6,289.5 880.0,290.1C882.4,290.7 884.6,291.1 886.9,292.2C889.2,293.2 891.6,294.9 893.9,296.4C896.2,297.9 898.5,299.6 900.8,301.2C903.1,302.8 905.5,304.1 907.8,306.1C910.1,308.1 912.4,310.7 914.7,313.1C917.0,315.5 919.6,318.4 921.7,320.7C923.8,323.0 925.4,324.7 927.2,326.9C929.1,329.1 931.2,331.6 932.8,333.9C934.4,336.2 935.5,338.5 936.9,340.8C938.3,343.1 940.2,346.3 941.1,347.8C942.0,349.3 940.7,348.3 942.5,350.0C944.3,351.7 949.6,355.7 952.0,358.1C954.4,360.5 953.9,359.5 956.6,364.3C959.3,369.1 964.9,381.1 968.4,386.8C971.9,392.5 974.6,394.5 977.7,398.4C980.8,402.3 983.9,405.7 987.0,410.0C990.1,414.3 993.2,419.7 996.3,424.0C999.4,428.3 1002.9,431.6 1005.6,435.6C1008.3,439.6 1010.6,444.8 1012.3,447.8C1014.0,450.8 1014.0,450.8 1015.8,453.6C1017.6,456.4 1020.8,461.2 1022.9,464.4C1025.0,467.6 1026.4,469.7 1028.5,472.7C1030.6,475.7 1033.2,479.2 1035.5,482.5C1037.8,485.8 1040.1,489.2 1042.4,492.2C1044.7,495.2 1047.1,498.1 1049.4,500.6C1051.7,503.2 1053.9,505.4 1056.4,507.5C1059.0,509.6 1061.9,511.4 1064.7,513.1C1067.5,514.9 1070.3,516.6 1073.1,518.0C1075.9,519.4 1078.6,520.4 1081.4,521.5C1084.2,522.6 1087.0,523.9 1089.8,524.9C1092.6,525.9 1095.3,526.9 1098.1,527.7C1100.9,528.5 1104.6,529.0 1106.5,529.5C1108.4,530.0 1108.1,530.3 1109.3,530.5C1110.5,530.7 1090.0,530.6 1113.5,530.8C1137.0,531.0 1227.4,531.6 1250.2,531.8L1250.2,531.8C1219.5,531.7 1097.5,531.4 1066.1,531.1C1034.7,530.8 1064.0,530.7 1061.9,530.1C1059.8,529.5 1056.8,528.8 1053.6,527.7C1050.3,526.6 1046.1,525.2 1042.4,523.5C1038.7,521.8 1034.5,519.5 1031.3,517.3C1028.0,515.1 1025.5,512.6 1022.9,510.3C1020.4,508.0 1018.3,505.7 1016.0,503.4C1013.7,501.1 1010.9,499.0 1009.0,496.4C1007.1,493.8 1006.4,491.0 1004.8,488.0C1003.2,485.0 1001.1,481.8 999.2,478.3C997.4,474.8 995.6,470.8 993.7,467.1C991.9,463.4 989.5,458.6 988.1,456.0C986.8,453.4 986.6,453.1 985.6,451.3C984.6,449.6 984.6,450.4 982.1,445.5C979.6,440.6 973.8,428.4 970.7,421.7C967.6,415.0 966.0,410.4 963.7,405.4C961.4,400.3 959.3,396.2 956.7,391.4C954.1,386.6 950.4,379.8 948.1,376.4C945.8,373.0 944.6,373.3 942.7,371.3C940.8,369.3 938.6,366.6 936.5,364.3C934.4,362.0 932.4,359.8 930.3,357.3C928.2,354.9 926.2,352.6 924.1,349.6C922.0,346.6 920.0,342.9 917.9,339.5C915.8,336.1 913.8,332.6 911.7,329.5C909.6,326.4 907.4,323.4 905.5,321.0C903.6,318.6 901.6,316.4 900.1,314.8C898.6,313.2 899.4,312.2 896.2,311.7C893.0,311.2 885.3,311.8 880.7,312.0C876.1,312.2 873.0,312.9 868.4,313.2C863.8,313.4 857.5,313.3 852.9,313.5C848.2,313.7 844.4,314.1 840.5,314.5C836.6,314.9 832.8,315.4 829.7,316.0C826.6,316.6 825.0,316.9 821.9,317.9C818.8,318.8 815.0,320.3 811.1,321.7C807.2,323.1 802.8,325.1 798.7,326.4C794.6,327.7 790.2,328.6 786.3,329.5C782.4,330.4 779.9,330.7 775.5,331.8C771.1,332.9 763.3,335.1 760.0,336.4C756.7,337.6 758.4,337.9 755.8,339.3C753.2,340.8 748.1,343.2 744.2,345.1C740.3,347.0 736.5,349.0 732.6,350.9C728.7,352.8 724.8,354.8 720.9,356.7C717.0,358.6 713.2,360.9 709.3,362.6C705.4,364.4 701.6,366.1 697.7,367.2C693.8,368.3 689.9,368.7 686.0,369.5C682.1,370.3 678.3,371.1 674.4,371.9C670.5,372.7 666.7,373.5 662.8,374.2C658.9,374.9 655.1,375.2 651.2,375.8C647.3,376.4 643.4,377.1 639.5,377.7C635.6,378.3 631.8,378.8 627.9,379.5C624.0,380.2 620.2,381.3 616.3,382.1C612.4,382.9 608.6,383.6 604.7,384.2C600.8,384.8 596.9,385.4 593.0,386.0C589.1,386.6 585.3,387.0 581.4,387.9C577.5,388.8 574.4,389.4 569.8,391.2C565.1,393.0 557.0,397.4 553.5,398.6C550.0,399.8 550.7,398.2 548.8,398.6C546.9,399.0 544.2,399.7 541.9,400.9C539.6,402.1 538.0,404.1 534.9,405.6C531.8,407.2 526.8,408.8 523.3,410.2C519.8,411.6 516.8,412.7 514.1,413.9C511.4,415.1 509.4,416.2 507.1,417.4C504.8,418.6 502.5,420.1 500.2,420.9C497.9,421.7 495.8,421.9 493.2,422.3C490.6,422.7 487.6,422.6 484.8,423.0C482.0,423.4 479.3,423.9 476.5,424.4C473.7,424.9 470.4,425.3 468.1,425.8C465.8,426.3 464.5,426.6 462.6,427.2C460.8,427.8 458.9,428.3 457.0,429.2C455.1,430.1 453.3,431.3 451.4,432.7C449.5,434.1 447.4,436.1 445.8,437.6C444.2,439.1 443.6,440.4 441.7,441.8C439.8,443.2 437.2,444.6 434.7,446.0C432.1,447.4 428.7,449.0 426.4,450.1C424.1,451.2 422.7,452.0 420.8,452.9C418.9,453.8 417.1,454.6 415.2,455.7C413.3,456.8 411.9,458.1 409.6,459.2C407.3,460.2 404.1,461.3 401.3,462.0C398.5,462.7 395.7,462.8 392.9,463.4C390.1,464.0 386.8,464.8 384.6,465.5C382.4,466.2 381.4,466.4 379.9,467.4C378.4,468.4 377.2,469.4 375.5,471.5C373.8,473.6 371.8,477.3 369.9,479.9C368.0,482.5 366.4,485.0 364.3,486.9C362.2,488.8 359.7,490.1 357.4,491.0C355.1,491.9 353.4,492.0 350.4,492.4C347.4,492.8 342.8,492.9 339.3,493.1C335.8,493.3 332.3,493.5 329.5,493.8C326.7,494.1 325.2,494.5 322.6,494.8C320.1,495.1 317.0,495.5 314.2,495.9C311.4,496.3 313.4,494.5 305.8,497.4C298.2,500.3 275.2,510.3 268.3,513.4C261.4,516.5 266.0,514.9 264.1,515.9C262.2,516.9 259.4,518.5 257.1,519.4C254.8,520.3 252.5,520.7 250.2,521.5C247.9,522.3 245.5,523.4 243.2,524.2C240.9,525.0 238.5,525.7 236.2,526.3C233.9,526.9 231.6,527.2 229.3,527.7C227.0,528.2 225.1,528.6 222.3,529.1C219.5,529.6 216.1,530.1 212.6,530.5C209.1,530.9 220.9,531.0 201.4,531.2C181.9,531.4 113.2,531.5 95.6,531.6Z" fill="#FF0000" fill-opacity="0.7"/>
<path d="M95.6,531.5C108.6,531.4 159.4,531.2 173.6,530.7C187.8,530.2 178.2,529.0 180.5,528.4C182.8,527.8 185.2,527.6 187.5,527.0C189.8,526.4 192.2,525.6 194.5,524.9C196.8,524.2 199.1,523.7 201.4,522.9C203.7,522.1 206.1,521.1 208.4,520.3C210.7,519.5 213.0,518.9 215.3,518.0C217.6,517.1 220.0,516.1 222.3,515.2C224.6,514.3 227.0,513.3 229.3,512.4C231.6,511.5 233.9,510.5 236.2,509.6C238.5,508.7 240.9,507.7 243.2,506.8C245.5,505.9 246.9,505.7 250.2,504.1C253.4,502.5 259.5,499.0 262.7,497.3C265.9,495.6 267.3,494.9 269.6,493.8C271.9,492.8 274.3,491.9 276.6,491.0C278.9,490.1 281.3,489.1 283.6,488.2C285.9,487.3 288.2,486.6 290.5,485.5C292.8,484.4 295.2,482.7 297.5,481.3C299.8,479.9 302.2,478.6 304.5,477.1C306.8,475.6 309.1,473.6 311.4,472.2C313.7,470.8 316.1,469.6 318.4,468.7C320.7,467.8 323.0,467.4 325.3,466.7C327.6,466.0 330.0,465.3 332.3,464.6C334.6,463.9 337.0,463.2 339.3,462.5C341.6,461.8 343.9,461.2 346.2,460.4C348.5,459.6 350.9,458.7 353.2,457.6C355.5,456.6 357.9,455.2 360.2,454.1C362.5,453.1 364.8,452.0 367.1,451.3C369.4,450.6 372.0,450.5 374.1,449.9C376.2,449.3 377.7,448.8 379.9,447.9C382.1,447.0 384.8,445.6 387.4,444.3C390.0,443.1 392.9,441.9 395.7,440.4C398.5,438.9 401.3,437.1 404.1,435.5C406.9,433.9 409.6,432.2 412.4,430.6C415.2,429.0 418.0,427.4 420.8,425.8C423.6,424.2 426.3,422.4 429.1,420.9C431.9,419.4 434.7,418.0 437.5,416.7C440.3,415.4 443.0,414.2 445.8,413.2C448.6,412.1 451.4,411.4 454.2,410.4C457.0,409.4 460.1,408.8 462.6,407.0C465.1,405.2 466.6,401.8 469.1,399.9C471.6,398.0 474.7,397.4 477.5,395.9C480.3,394.4 483.0,392.6 485.8,391.0C488.6,389.4 491.4,387.8 494.2,386.2C497.0,384.6 499.8,383.2 502.6,381.3C505.4,379.4 508.1,376.9 510.9,375.0C513.7,373.1 516.5,371.4 519.3,370.1C522.1,368.8 524.8,368.4 527.6,367.4C530.4,366.4 533.2,364.9 536.0,363.9C538.8,362.8 541.8,362.3 544.3,361.1C546.8,359.9 548.7,358.3 551.3,356.9C553.9,355.5 556.8,354.3 559.9,352.7C563.0,351.1 566.2,349.0 569.8,347.4C573.4,345.8 577.5,344.5 581.4,342.8C585.3,341.1 589.1,338.6 593.0,337.0C596.9,335.4 600.8,334.7 604.7,333.5C608.6,332.3 612.4,331.4 616.3,330.0C620.2,328.6 624.0,326.9 627.9,325.3C631.8,323.8 637.5,321.4 639.5,320.7C641.5,320.0 638.0,321.7 640.0,321.4C642.0,321.1 647.7,319.9 651.6,319.1C655.5,318.3 659.4,317.7 663.3,316.7C667.2,315.7 671.0,314.3 674.9,313.3C678.8,312.3 682.6,312.2 686.5,310.9C690.4,309.6 694.2,306.8 698.1,305.3C702.0,303.8 705.9,303.9 709.8,302.1C713.7,300.3 718.4,296.6 721.4,294.7C724.4,292.8 725.8,291.9 727.9,290.5C730.0,289.1 731.4,287.2 734.2,286.0C737.0,284.8 741.0,284.1 744.7,283.0C748.4,281.9 752.4,280.7 756.3,279.5C760.2,278.3 764.0,277.1 767.9,276.0C771.8,274.9 775.6,273.4 779.5,272.6C783.4,271.8 787.3,272.6 791.2,271.4C795.1,270.2 798.9,267.0 802.8,265.6C806.7,264.2 810.5,264.1 814.4,263.3C818.3,262.5 822.1,261.5 826.0,260.9C829.9,260.3 833.8,260.1 837.7,259.8C841.6,259.5 845.4,259.3 849.3,259.3C853.2,259.3 857.0,259.0 860.9,259.8C864.8,260.6 869.0,262.7 872.6,264.4C876.2,266.1 879.7,268.1 882.8,270.0C885.9,271.9 888.3,273.8 891.1,275.6C893.9,277.5 896.6,279.0 899.4,281.1C902.2,283.2 905.0,285.6 907.8,288.1C910.6,290.7 913.5,294.0 916.1,296.4C918.7,298.8 920.8,300.5 923.1,302.6C925.4,304.7 927.9,306.9 930.0,308.9C932.1,310.9 933.8,312.3 935.6,314.4C937.5,316.5 939.5,319.1 941.1,321.4C942.7,323.7 943.9,325.8 945.3,328.3C946.7,330.9 948.0,333.9 949.4,336.7C950.8,339.5 952.4,342.8 953.6,345.0C954.8,347.2 954.3,346.5 956.4,350.0C958.5,353.5 962.9,360.9 966.0,365.9C969.1,370.9 972.2,375.6 975.3,379.8C978.4,384.1 981.6,387.9 984.7,391.4C987.8,394.9 990.9,397.2 994.0,400.7C997.1,404.2 1000.6,408.9 1003.3,412.4C1006.0,415.9 1007.5,418.2 1010.2,421.7C1012.9,425.2 1016.2,429.3 1019.5,433.3C1022.8,437.3 1027.3,442.1 1029.8,445.5C1032.3,448.9 1032.3,450.5 1034.4,453.6C1036.5,456.8 1040.1,461.2 1042.4,464.4C1044.7,467.6 1045.9,469.7 1048.0,472.7C1050.1,475.7 1052.7,479.5 1055.0,482.5C1057.3,485.5 1059.6,488.0 1061.9,490.8C1064.2,493.6 1066.6,496.8 1068.9,499.2C1071.2,501.6 1073.5,503.4 1075.8,505.4C1078.1,507.4 1080.2,509.1 1082.8,511.0C1085.4,512.9 1088.4,514.9 1091.2,516.6C1094.0,518.4 1096.7,520.1 1099.5,521.5C1102.3,522.9 1105.1,523.9 1107.9,524.9C1110.7,525.9 1113.2,526.9 1116.2,527.7C1119.2,528.5 1122.6,529.2 1126.0,529.8C1129.4,530.4 1116.0,530.8 1136.7,531.1C1157.4,531.4 1231.3,531.7 1250.2,531.8L1250.2,531.8C1227.4,531.6 1137.0,531.0 1113.5,530.8C1090.0,530.6 1110.5,530.7 1109.3,530.5C1108.1,530.3 1108.4,530.0 1106.5,529.5C1104.6,529.0 1100.9,528.5 1098.1,527.7C1095.3,526.9 1092.6,525.9 1089.8,524.9C1087.0,523.9 1084.2,522.6 1081.4,521.5C1078.6,520.4 1075.9,519.4 1073.1,518.0C1070.3,516.6 1067.5,514.9 1064.7,513.1C1061.9,511.4 1059.0,509.6 1056.4,507.5C1053.9,505.4 1051.7,503.2 1049.4,500.6C1047.1,498.1 1044.7,495.2 1042.4,492.2C1040.1,489.2 1037.8,485.8 1035.5,482.5C1033.2,479.2 1030.6,475.7 1028.5,472.7C1026.4,469.7 1025.0,467.6 1022.9,464.4C1020.8,461.2 1017.6,456.4 1015.8,453.6C1014.0,450.8 1014.0,450.8 1012.3,447.8C1010.6,444.8 1008.3,439.6 1005.6,435.6C1002.9,431.6 999.4,428.3 996.3,424.0C993.2,419.7 990.1,414.3 987.0,410.0C983.9,405.7 980.8,402.3 977.7,398.4C974.6,394.5 971.9,392.5 968.4,386.8C964.9,381.1 959.3,369.1 956.6,364.3C953.9,359.5 954.4,360.5 952.0,358.1C949.6,355.7 944.3,351.7 942.5,350.0C940.7,348.3 942.0,349.3 941.1,347.8C940.2,346.3 938.3,343.1 936.9,340.8C935.5,338.5 934.4,336.2 932.8,333.9C931.2,331.6 929.1,329.1 927.2,326.9C925.4,324.7 923.8,323.0 921.7,320.7C919.6,318.4 917.0,315.5 914.7,313.1C912.4,310.7 910.1,308.1 907.8,306.1C905.5,304.1 903.1,302.8 900.8,301.2C898.5,299.6 896.2,297.9 893.9,296.4C891.6,294.9 889.2,293.2 886.9,292.2C884.6,291.1 882.4,290.7 880.0,290.1C877.6,289.5 875.8,289.6 872.6,288.8C869.4,288.0 864.8,286.2 860.9,285.3C857.0,284.4 853.2,283.8 849.3,283.5C845.4,283.2 841.6,283.5 837.7,283.5C833.8,283.5 829.9,283.6 826.0,283.7C822.1,283.8 818.3,283.9 814.4,284.2C810.5,284.5 806.7,284.3 802.8,285.3C798.9,286.3 793.8,289.0 791.0,290.0C788.2,291.0 788.4,290.9 786.3,291.5C784.2,292.1 781.4,292.9 778.6,293.9C775.8,294.9 772.4,296.4 769.3,297.7C766.2,299.0 762.2,300.9 760.0,301.6C757.8,302.3 758.4,301.2 755.8,302.1C753.2,303.0 748.1,304.9 744.2,306.7C740.3,308.4 736.5,310.9 732.6,312.6C728.7,314.4 724.8,315.6 720.9,317.2C717.0,318.8 713.2,320.7 709.3,321.9C705.4,323.1 701.6,323.2 697.7,324.2C693.8,325.2 689.9,326.5 686.0,327.7C682.1,328.9 678.3,330.0 674.4,331.2C670.5,332.4 666.7,333.7 662.8,334.7C658.9,335.7 655.1,336.4 651.2,337.0C647.3,337.6 643.4,337.7 639.5,338.1C635.6,338.5 631.8,338.7 627.9,339.3C624.0,339.9 620.2,340.2 616.3,341.6C612.4,343.0 608.6,345.1 604.7,347.4C600.8,349.7 596.5,353.1 593.0,355.6C589.5,358.1 586.4,360.5 583.5,362.5C580.6,364.5 578.5,366.1 575.8,367.7C573.1,369.3 570.3,370.9 567.5,372.3C564.7,373.8 561.9,375.3 559.1,376.4C556.3,377.5 553.6,378.1 550.8,378.8C548.0,379.5 545.2,379.7 542.4,380.6C539.6,381.5 536.9,383.1 534.1,384.4C531.3,385.7 528.7,387.2 525.7,388.6C522.7,390.0 519.5,391.3 516.0,392.7C512.5,394.1 508.5,395.6 504.8,396.9C501.1,398.2 496.5,399.5 493.7,400.7C490.9,401.9 490.7,403.3 488.1,404.3C485.6,405.3 481.4,405.7 478.4,406.7C475.4,407.7 471.7,409.7 470.0,410.4C468.3,411.1 469.8,410.5 468.1,411.1C466.4,411.7 462.6,413.0 459.8,413.9C457.0,414.8 454.2,415.3 451.4,416.7C448.6,418.1 445.9,420.6 443.1,422.3C440.3,424.1 437.3,425.7 434.7,427.2C432.1,428.7 430.0,429.9 427.7,431.3C425.4,432.7 423.1,434.0 420.8,435.5C418.5,437.0 416.1,438.8 413.8,440.4C411.5,442.0 409.4,444.2 406.9,445.3C404.3,446.4 401.3,446.2 398.5,446.7C395.7,447.2 392.9,447.3 390.1,448.1C387.3,448.9 383.5,450.7 381.8,451.5C380.1,452.3 381.6,451.9 379.9,452.7C378.1,453.5 373.9,454.9 371.3,456.2C368.7,457.5 366.6,459.1 364.3,460.4C362.0,461.7 359.7,462.8 357.4,463.9C355.1,464.9 352.7,465.9 350.4,466.7C348.1,467.5 345.8,468.0 343.5,468.7C341.2,469.4 338.8,470.2 336.5,470.8C334.2,471.4 331.8,471.7 329.5,472.2C327.2,472.7 324.9,472.8 322.6,473.6C320.3,474.4 317.9,475.8 315.6,477.1C313.3,478.4 310.9,480.0 308.6,481.3C306.3,482.6 304.0,483.7 301.7,484.8C299.4,485.9 297.0,487.2 294.7,488.2C292.4,489.2 290.0,490.1 287.7,491.0C285.4,491.9 283.1,492.9 280.8,493.8C278.5,494.7 276.4,495.1 273.8,496.6C271.2,498.1 267.8,501.4 265.5,502.7C263.2,503.9 261.8,503.3 259.9,504.1C258.0,504.9 255.9,506.4 254.3,507.5C252.7,508.6 252.0,510.1 250.2,511.0C248.3,511.9 245.5,512.4 243.2,513.1C240.9,513.8 238.5,514.5 236.2,515.2C233.9,515.9 231.6,516.6 229.3,517.3C227.0,518.0 224.6,518.7 222.3,519.4C220.0,520.1 217.6,520.9 215.3,521.7C213.0,522.5 211.2,523.1 208.4,524.2C205.6,525.3 202.1,527.3 198.6,528.4C195.1,529.5 204.7,530.4 187.5,530.9C170.3,531.4 110.9,531.4 95.6,531.5Z" fill="#FFFF00" fill-opacity="0.7"/>
<path d="M95.6,531.3C99.3,531.0 113.0,530.3 117.9,529.8C122.8,529.3 122.5,528.9 124.8,528.4C127.1,527.9 129.5,527.5 131.8,527.0C134.1,526.5 136.4,526.1 138.7,525.6C141.0,525.1 143.4,524.8 145.7,524.2C148.0,523.6 150.4,522.9 152.7,522.2C155.0,521.5 157.3,520.8 159.6,520.1C161.9,519.4 164.3,518.6 166.6,518.0C168.9,517.4 171.3,517.1 173.6,516.6C175.9,516.1 178.2,515.7 180.5,515.2C182.8,514.7 185.2,514.4 187.5,513.8C189.8,513.2 192.2,512.5 194.5,511.7C196.8,510.9 199.1,509.8 201.4,508.9C203.7,508.0 206.1,506.9 208.4,506.1C210.7,505.3 212.1,505.8 215.3,504.1C218.6,502.4 224.7,498.1 227.9,495.9C231.2,493.7 232.5,492.5 234.8,491.0C237.1,489.5 239.5,488.2 241.8,486.9C244.1,485.6 246.4,484.7 248.7,483.4C251.0,482.1 253.4,480.6 255.7,479.2C258.0,477.8 260.4,476.4 262.7,475.0C265.0,473.6 267.3,472.1 269.6,470.8C271.9,469.5 274.3,468.4 276.6,467.4C278.9,466.4 281.3,465.8 283.6,464.6C285.9,463.4 288.2,461.9 290.5,460.4C292.8,458.9 295.2,457.2 297.5,455.5C299.8,453.8 302.2,451.5 304.5,449.9C306.8,448.3 309.1,447.2 311.4,445.8C313.7,444.4 316.1,443.0 318.4,441.6C320.7,440.2 323.0,438.8 325.3,437.4C327.6,436.0 330.0,434.6 332.3,433.2C334.6,431.8 337.0,430.5 339.3,429.1C341.6,427.7 343.4,426.1 346.2,424.9C349.0,423.7 352.7,423.9 356.3,422.0C359.9,420.1 364.0,416.7 367.9,413.8C371.8,410.9 375.6,407.2 379.5,404.5C383.4,401.8 387.3,399.6 391.2,397.5C395.1,395.4 398.9,393.4 402.8,391.7C406.7,390.0 410.5,388.5 414.4,387.1C418.3,385.8 422.1,385.4 426.0,383.6C429.9,381.9 433.8,379.5 437.7,376.6C441.6,373.7 445.4,369.4 449.3,366.1C453.2,362.8 457.0,359.7 460.9,356.8C464.8,353.9 468.7,351.4 472.6,348.7C476.5,346.0 480.3,342.9 484.2,340.6C488.1,338.3 493.2,335.9 495.8,334.7C498.4,333.5 497.4,334.7 500.0,333.5C502.6,332.3 507.7,329.2 511.6,327.7C515.5,326.1 519.4,325.4 523.3,324.2C527.2,323.0 531.0,321.9 534.9,320.7C538.8,319.5 542.6,318.5 546.5,317.2C550.4,315.9 554.2,314.2 558.1,312.6C562.0,311.1 566.3,309.3 569.8,307.9C573.3,306.5 576.1,305.6 579.1,304.4C582.1,303.2 584.3,302.1 587.7,300.7C591.1,299.3 595.4,297.7 599.3,296.1C603.2,294.6 607.0,292.9 610.9,291.4C614.8,289.8 618.7,288.4 622.6,286.8C626.5,285.2 631.3,283.5 634.2,282.1C637.1,280.7 637.1,280.0 640.0,278.4C642.9,276.8 647.7,274.4 651.6,272.6C655.5,270.9 659.4,270.0 663.3,267.9C667.2,265.8 671.0,262.3 674.9,259.8C678.8,257.3 682.6,254.9 686.5,252.8C690.4,250.7 694.2,248.9 698.1,247.0C702.0,245.1 705.9,242.9 709.8,241.2C713.7,239.4 717.5,237.9 721.4,236.5C725.3,235.1 729.1,234.3 733.0,233.0C736.9,231.7 740.8,230.0 744.7,228.4C748.6,226.8 752.4,225.4 756.3,223.7C760.2,221.9 764.0,219.6 767.9,217.9C771.8,216.2 775.6,214.9 779.5,213.3C783.4,211.8 787.3,210.0 791.2,208.6C795.1,207.2 798.9,206.4 802.8,205.1C806.7,203.8 810.5,201.8 814.4,200.5C818.3,199.2 822.1,198.0 826.0,197.0C829.9,196.0 833.8,195.5 837.7,194.7C841.6,193.9 845.8,193.1 849.3,192.3C852.8,191.5 855.9,190.8 858.6,190.0C861.3,189.2 863.3,188.0 865.6,187.4C867.9,186.8 869.9,186.3 872.6,186.2C875.3,186.1 879.1,186.1 881.9,186.7C884.7,187.3 886.5,188.7 889.3,190.0C892.1,191.3 895.5,193.1 898.6,194.7C901.7,196.2 904.4,197.8 907.9,199.3C911.4,200.9 915.6,201.7 919.5,204.0C923.4,206.3 927.7,210.0 931.2,213.3C934.7,216.6 937.4,220.2 940.5,223.7C943.6,227.2 946.7,230.5 949.8,234.2C952.9,237.9 956.0,242.3 959.1,245.8C962.2,249.3 965.3,252.0 968.4,255.1C971.5,258.2 975.0,261.3 977.7,264.4C980.4,267.5 982.4,270.2 984.7,273.7C987.0,277.2 989.3,281.6 991.6,285.3C993.9,289.0 996.3,291.9 998.6,295.8C1000.9,299.7 1003.5,303.9 1005.6,308.6C1007.7,313.3 1008.3,319.1 1011.4,324.0C1014.5,328.9 1020.5,333.0 1024.2,338.0C1027.9,343.0 1030.4,348.8 1033.5,354.2C1036.6,359.6 1039.7,365.4 1042.8,370.5C1045.9,375.6 1049.4,379.9 1052.1,384.5C1054.8,389.1 1056.8,394.5 1059.1,398.4C1061.4,402.3 1063.3,404.6 1066.0,407.7C1068.7,410.8 1072.6,413.9 1075.3,417.0C1078.0,420.1 1080.0,423.2 1082.3,426.3C1084.6,429.4 1086.0,431.4 1089.3,435.6C1092.6,439.8 1098.2,446.8 1101.9,451.3C1105.6,455.9 1108.1,459.0 1111.2,462.9C1114.3,466.8 1117.8,471.1 1120.5,474.6C1123.2,478.1 1125.1,481.0 1127.4,483.9C1129.7,486.8 1132.1,489.5 1134.4,492.0C1136.7,494.5 1139.1,496.9 1141.4,499.0C1143.7,501.1 1145.7,502.7 1148.4,504.8C1151.1,506.9 1154.6,509.5 1157.7,511.8C1160.8,514.1 1164.3,516.8 1167.0,518.7C1169.7,520.6 1171.3,521.9 1174.0,523.4C1176.7,524.9 1180.2,526.5 1183.3,527.6C1186.4,528.7 1189.1,529.3 1192.6,529.9C1196.1,530.5 1194.6,530.8 1204.2,531.1C1213.8,531.4 1242.5,531.7 1250.2,531.8L1250.2,531.8C1231.3,531.7 1157.4,531.4 1136.7,531.1C1116.0,530.8 1129.4,530.4 1126.0,529.8C1122.6,529.2 1119.2,528.5 1116.2,527.7C1113.2,526.9 1110.7,525.9 1107.9,524.9C1105.1,523.9 1102.3,522.9 1099.5,521.5C1096.7,520.1 1094.0,518.4 1091.2,516.6C1088.4,514.9 1085.4,512.9 1082.8,511.0C1080.2,509.1 1078.1,507.4 1075.8,505.4C1073.5,503.4 1071.2,501.6 1068.9,499.2C1066.6,496.8 1064.2,493.6 1061.9,490.8C1059.6,488.0 1057.3,485.5 1055.0,482.5C1052.7,479.5 1050.1,475.7 1048.0,472.7C1045.9,469.7 1044.7,467.6 1042.4,464.4C1040.1,461.2 1036.5,456.8 1034.4,453.6C1032.3,450.5 1032.3,448.9 1029.8,445.5C1027.3,442.1 1022.8,437.3 1019.5,433.3C1016.2,429.3 1012.9,425.2 1010.2,421.7C1007.5,418.2 1006.0,415.9 1003.3,412.4C1000.6,408.9 997.1,404.2 994.0,400.7C990.9,397.2 987.8,394.9 984.7,391.4C981.6,387.9 978.4,384.1 975.3,379.8C972.2,375.6 969.1,370.9 966.0,365.9C962.9,360.9 958.5,353.5 956.4,350.0C954.3,346.5 954.8,347.2 953.6,345.0C952.4,342.8 950.8,339.5 949.4,336.7C948.0,333.9 946.7,330.9 945.3,328.3C943.9,325.8 942.7,323.7 941.1,321.4C939.5,319.1 937.5,316.5 935.6,314.4C933.8,312.3 932.1,310.9 930.0,308.9C927.9,306.9 925.4,304.7 923.1,302.6C920.8,300.5 918.7,298.8 916.1,296.4C913.5,294.0 910.6,290.7 907.8,288.1C905.0,285.6 902.2,283.2 899.4,281.1C896.6,279.0 893.9,277.5 891.1,275.6C888.3,273.8 885.9,271.9 882.8,270.0C879.7,268.1 876.2,266.1 872.6,264.4C869.0,262.7 864.8,260.6 860.9,259.8C857.0,259.0 853.2,259.3 849.3,259.3C845.4,259.3 841.6,259.5 837.7,259.8C833.8,260.1 829.9,260.3 826.0,260.9C822.1,261.5 818.3,262.5 814.4,263.3C810.5,264.1 806.7,264.2 802.8,265.6C798.9,267.0 795.1,270.2 791.2,271.4C787.3,272.6 783.4,271.8 779.5,272.6C775.6,273.4 771.8,274.9 767.9,276.0C764.0,277.1 760.2,278.3 756.3,279.5C752.4,280.7 748.4,281.9 744.7,283.0C741.0,284.1 737.0,284.8 734.2,286.0C731.4,287.2 730.0,289.1 727.9,290.5C725.8,291.9 724.4,292.8 721.4,294.7C718.4,296.6 713.7,300.3 709.8,302.1C705.9,303.9 702.0,303.8 698.1,305.3C694.2,306.8 690.4,309.6 686.5,310.9C682.6,312.2 678.8,312.3 674.9,313.3C671.0,314.3 667.2,315.7 663.3,316.7C659.4,317.7 655.5,318.3 651.6,319.1C647.7,319.9 642.0,321.1 640.0,321.4C638.0,321.7 641.5,320.0 639.5,320.7C637.5,321.4 631.8,323.8 627.9,325.3C624.0,326.9 620.2,328.6 616.3,330.0C612.4,331.4 608.6,332.3 604.7,333.5C600.8,334.7 596.9,335.4 593.0,337.0C589.1,338.6 585.3,341.1 581.4,342.8C577.5,344.5 573.4,345.8 569.8,347.4C566.2,349.0 563.0,351.1 559.9,352.7C556.8,354.3 553.9,355.5 551.3,356.9C548.7,358.3 546.8,359.9 544.3,361.1C541.8,362.3 538.8,362.8 536.0,363.9C533.2,364.9 530.4,366.4 527.6,367.4C524.8,368.4 522.1,368.8 519.3,370.1C516.5,371.4 513.7,373.1 510.9,375.0C508.1,376.9 505.4,379.4 502.6,381.3C499.8,383.2 497.0,384.6 494.2,386.2C491.4,387.8 488.6,389.4 485.8,391.0C483.0,392.6 480.3,394.4 477.5,395.9C474.7,397.4 471.6,398.0 469.1,399.9C466.6,401.8 465.1,405.2 462.6,407.0C460.1,408.8 457.0,409.4 454.2,410.4C451.4,411.4 448.6,412.1 445.8,413.2C443.0,414.2 440.3,415.4 437.5,416.7C434.7,418.0 431.9,419.4 429.1,420.9C426.3,422.4 423.6,424.2 420.8,425.8C418.0,427.4 415.2,429.0 412.4,430.6C409.6,432.2 406.9,433.9 404.1,435.5C401.3,437.1 398.5,438.9 395.7,440.4C392.9,441.9 390.0,443.1 387.4,444.3C384.8,445.6 382.1,447.0 379.9,447.9C377.7,448.8 376.2,449.3 374.1,449.9C372.0,450.5 369.4,450.6 367.1,451.3C364.8,452.0 362.5,453.1 360.2,454.1C357.9,455.2 355.5,456.6 353.2,457.6C350.9,458.7 348.5,459.6 346.2,460.4C343.9,461.2 341.6,461.8 339.3,462.5C337.0,463.2 334.6,463.9 332.3,464.6C330.0,465.3 327.6,466.0 325.3,466.7C323.0,467.4 320.7,467.8 318.4,468.7C316.1,469.6 313.7,470.8 311.4,472.2C309.1,473.6 306.8,475.6 304.5,477.1C302.2,478.6 299.8,479.9 297.5,481.3C295.2,482.7 292.8,484.4 290.5,485.5C288.2,486.6 285.9,487.3 283.6,488.2C281.3,489.1 278.9,490.1 276.6,491.0C274.3,491.9 271.9,492.8 269.6,493.8C267.3,494.9 265.9,495.6 262.7,497.3C259.5,499.0 253.4,502.5 250.2,504.1C246.9,505.7 245.5,505.9 243.2,506.8C240.9,507.7 238.5,508.7 236.2,509.6C233.9,510.5 231.6,511.5 229.3,512.4C227.0,513.3 224.6,514.3 222.3,515.2C220.0,516.1 217.6,517.1 215.3,518.0C213.0,518.9 210.7,519.5 208.4,520.3C206.1,521.1 203.7,522.1 201.4,522.9C199.1,523.7 196.8,524.2 194.5,524.9C192.2,525.6 189.8,526.4 187.5,527.0C185.2,527.6 182.8,527.8 180.5,528.4C178.2,529.0 187.8,530.2 173.6,530.7C159.4,531.2 108.6,531.4 95.6,531.5Z" fill="#548235" fill-opacity="0.7"/>
<path d="M95.6,528.7C95.9,528.7 95.2,528.6 97.7,528.4C100.2,528.2 106.4,528.2 110.9,527.7C115.4,527.2 121.3,526.4 124.8,525.6C128.3,524.8 129.5,523.7 131.8,522.9C134.1,522.1 136.4,521.5 138.7,520.8C141.0,520.1 143.4,519.3 145.7,518.7C148.0,518.1 150.4,517.7 152.7,517.0C155.0,516.3 157.3,515.5 159.6,514.5C161.9,513.5 164.3,512.2 166.6,511.0C168.9,509.8 171.3,508.6 173.6,507.5C175.9,506.4 178.2,505.5 180.5,504.7C182.8,503.9 185.2,503.3 187.5,502.7C189.8,502.1 192.2,501.6 194.5,501.3C196.8,501.0 199.1,500.9 201.4,500.8C203.7,500.7 205.2,501.8 208.4,500.6C211.7,499.4 217.7,495.9 220.9,493.8C224.2,491.7 225.6,490.3 227.9,488.2C230.2,486.1 232.5,483.3 234.8,481.3C237.1,479.3 239.5,477.8 241.8,476.4C244.1,475.0 246.4,474.2 248.7,472.9C251.0,471.6 253.4,470.2 255.7,468.7C258.0,467.2 260.4,465.5 262.7,463.9C265.0,462.3 267.3,460.6 269.6,459.0C271.9,457.4 274.3,455.4 276.6,454.1C278.9,452.8 281.3,452.3 283.6,451.3C285.9,450.3 288.2,448.9 290.5,447.9C292.8,446.9 295.2,446.4 297.5,445.1C299.8,443.8 302.2,441.8 304.5,440.2C306.8,438.6 309.1,437.3 311.4,435.3C313.7,433.3 316.1,430.5 318.4,428.4C320.7,426.3 322.9,424.6 325.3,422.8C327.7,421.0 329.8,419.2 333.0,417.3C336.2,415.4 340.8,413.4 344.7,411.5C348.6,409.6 352.4,408.0 356.3,405.7C360.2,403.4 364.0,399.8 367.9,397.5C371.8,395.2 375.6,393.6 379.5,391.7C383.4,389.8 387.3,388.0 391.2,385.9C395.1,383.8 398.9,381.4 402.8,378.9C406.7,376.4 410.5,373.5 414.4,370.8C418.3,368.1 422.1,365.0 426.0,362.7C429.9,360.4 433.8,358.4 437.7,356.8C441.6,355.2 445.4,354.7 449.3,353.3C453.2,351.9 457.0,350.8 460.9,348.7C464.8,346.6 468.7,343.1 472.6,340.6C476.5,338.1 480.3,335.6 484.2,333.6C488.1,331.7 491.9,330.4 495.8,328.9C499.7,327.3 503.5,326.2 507.4,324.3C511.3,322.4 515.6,320.0 519.1,317.3C522.6,314.6 524.7,311.7 528.4,308.0C532.1,304.3 537.1,298.8 541.2,294.9C545.3,291.0 548.9,287.8 552.8,284.5C556.7,281.2 560.5,277.9 564.4,275.2C568.3,272.5 572.1,269.9 576.0,268.2C579.9,266.4 583.8,265.9 587.7,264.7C591.6,263.5 595.4,262.2 599.3,261.2C603.2,260.2 607.0,260.1 610.9,258.9C614.8,257.7 618.7,256.3 622.6,254.2C626.5,252.1 631.3,248.1 634.2,246.1C637.1,244.1 637.1,244.3 640.0,242.3C642.9,240.3 647.7,236.3 651.6,234.2C655.5,232.1 659.4,231.2 663.3,229.5C667.2,227.8 671.0,226.0 674.9,223.7C678.8,221.4 682.6,217.9 686.5,215.6C690.4,213.3 694.2,211.7 698.1,209.8C702.0,207.9 705.9,205.8 709.8,204.0C713.7,202.2 717.5,200.7 721.4,199.3C725.3,197.9 729.1,196.8 733.0,195.8C736.9,194.8 740.8,194.3 744.7,193.5C748.6,192.7 752.0,192.4 756.3,191.2C760.5,190.0 766.3,187.8 770.2,186.2C774.1,184.6 776.0,183.1 779.5,181.6C783.0,180.1 787.3,178.7 791.2,176.9C795.1,175.2 798.9,172.8 802.8,171.1C806.7,169.4 810.5,168.6 814.4,166.5C818.3,164.4 822.1,160.6 826.0,158.3C829.9,156.0 833.8,154.1 837.7,152.5C841.6,150.9 845.4,149.7 849.3,148.6C853.2,147.5 857.0,146.9 860.9,146.2C864.8,145.5 869.4,144.9 872.6,144.4C875.8,143.9 876.8,143.2 880.0,143.2C883.2,143.2 888.5,144.0 891.6,144.4C894.7,144.8 896.3,145.1 898.6,145.5C900.9,145.9 902.9,147.0 905.6,146.7C908.3,146.4 911.8,144.6 914.9,143.9C918.0,143.2 921.1,142.8 924.2,142.7C927.3,142.6 930.8,142.5 933.5,143.2C936.2,143.9 937.8,145.3 940.5,146.7C943.2,148.0 946.7,149.8 949.8,151.3C952.9,152.9 956.0,154.1 959.1,156.0C962.2,157.9 965.3,160.5 968.4,163.0C971.5,165.5 975.0,168.4 977.7,171.1C980.4,173.8 980.8,174.6 984.7,179.3C988.6,184.0 996.6,193.6 1000.9,199.3C1005.1,205.0 1007.1,208.3 1010.2,213.3C1013.3,218.3 1016.8,224.1 1019.5,229.5C1022.2,234.9 1024.2,240.4 1026.5,245.8C1028.8,251.2 1031.2,257.1 1033.5,262.1C1035.8,267.1 1038.2,271.7 1040.5,276.0C1042.8,280.3 1045.5,283.8 1047.4,287.7C1049.3,291.6 1050.5,295.4 1052.1,299.3C1053.6,303.2 1054.0,304.8 1056.7,310.9C1059.4,316.9 1065.3,329.2 1068.4,335.6C1071.5,342.1 1073.0,344.2 1075.3,349.6C1077.6,355.0 1080.0,362.8 1082.3,368.2C1084.6,373.6 1087.0,377.5 1089.3,382.1C1091.6,386.8 1094.0,391.5 1096.3,396.1C1098.6,400.8 1101.0,405.7 1103.3,410.0C1105.6,414.3 1107.9,417.8 1110.2,421.7C1112.5,425.6 1114.9,429.9 1117.2,433.3C1119.5,436.7 1121.9,438.6 1124.0,442.0C1126.1,445.4 1127.7,449.3 1129.8,453.6C1131.9,457.9 1134.4,463.3 1136.7,467.6C1139.0,471.9 1141.4,475.3 1143.7,479.2C1146.0,483.1 1148.4,487.5 1150.7,490.8C1153.0,494.1 1155.4,496.5 1157.7,499.0C1160.0,501.5 1162.4,503.9 1164.7,506.0C1167.0,508.1 1169.3,510.1 1171.6,511.8C1173.9,513.5 1175.9,515.0 1178.6,516.4C1181.3,517.8 1184.8,518.9 1187.9,519.9C1191.0,520.9 1194.1,521.2 1197.2,522.2C1200.3,523.2 1203.4,524.7 1206.5,525.7C1209.6,526.7 1212.7,527.3 1215.8,528.0C1218.9,528.7 1221.2,529.4 1225.1,529.9C1229.0,530.4 1234.9,530.8 1239.1,531.1C1243.3,531.4 1248.3,531.4 1250.2,531.5L1250.2,531.8C1242.5,531.7 1213.8,531.4 1204.2,531.1C1194.6,530.8 1196.1,530.5 1192.6,529.9C1189.1,529.3 1186.4,528.7 1183.3,527.6C1180.2,526.5 1176.7,524.9 1174.0,523.4C1171.3,521.9 1169.7,520.6 1167.0,518.7C1164.3,516.8 1160.8,514.1 1157.7,511.8C1154.6,509.5 1151.1,506.9 1148.4,504.8C1145.7,502.7 1143.7,501.1 1141.4,499.0C1139.1,496.9 1136.7,494.5 1134.4,492.0C1132.1,489.5 1129.7,486.8 1127.4,483.9C1125.1,481.0 1123.2,478.1 1120.5,474.6C1117.8,471.1 1114.3,466.8 1111.2,462.9C1108.1,459.0 1105.6,455.9 1101.9,451.3C1098.2,446.8 1092.6,439.8 1089.3,435.6C1086.0,431.4 1084.6,429.4 1082.3,426.3C1080.0,423.2 1078.0,420.1 1075.3,417.0C1072.6,413.9 1068.7,410.8 1066.0,407.7C1063.3,404.6 1061.4,402.3 1059.1,398.4C1056.8,394.5 1054.8,389.1 1052.1,384.5C1049.4,379.9 1045.9,375.6 1042.8,370.5C1039.7,365.4 1036.6,359.6 1033.5,354.2C1030.4,348.8 1027.9,343.0 1024.2,338.0C1020.5,333.0 1014.5,328.9 1011.4,324.0C1008.3,319.1 1007.7,313.3 1005.6,308.6C1003.5,303.9 1000.9,299.7 998.6,295.8C996.3,291.9 993.9,289.0 991.6,285.3C989.3,281.6 987.0,277.2 984.7,273.7C982.4,270.2 980.4,267.5 977.7,264.4C975.0,261.3 971.5,258.2 968.4,255.1C965.3,252.0 962.2,249.3 959.1,245.8C956.0,242.3 952.9,237.9 949.8,234.2C946.7,230.5 943.6,227.2 940.5,223.7C937.4,220.2 934.7,216.6 931.2,213.3C927.7,210.0 923.4,206.3 919.5,204.0C915.6,201.7 911.4,200.9 907.9,199.3C904.4,197.8 901.7,196.2 898.6,194.7C895.5,193.1 892.1,191.3 889.3,190.0C886.5,188.7 884.7,187.3 881.9,186.7C879.1,186.1 875.3,186.1 872.6,186.2C869.9,186.3 867.9,186.8 865.6,187.4C863.3,188.0 861.3,189.2 858.6,190.0C855.9,190.8 852.8,191.5 849.3,192.3C845.8,193.1 841.6,193.9 837.7,194.7C833.8,195.5 829.9,196.0 826.0,197.0C822.1,198.0 818.3,199.2 814.4,200.5C810.5,201.8 806.7,203.8 802.8,205.1C798.9,206.4 795.1,207.2 791.2,208.6C787.3,210.0 783.4,211.8 779.5,213.3C775.6,214.9 771.8,216.2 767.9,217.9C764.0,219.6 760.2,221.9 756.3,223.7C752.4,225.4 748.6,226.8 744.7,228.4C740.8,230.0 736.9,231.7 733.0,233.0C729.1,234.3 725.3,235.1 721.4,236.5C717.5,237.9 713.7,239.4 709.8,241.2C705.9,242.9 702.0,245.1 698.1,247.0C694.2,248.9 690.4,250.7 686.5,252.8C682.6,254.9 678.8,257.3 674.9,259.8C671.0,262.3 667.2,265.8 663.3,267.9C659.4,270.0 655.5,270.9 651.6,272.6C647.7,274.4 642.9,276.8 640.0,278.4C637.1,280.0 637.1,280.7 634.2,282.1C631.3,283.5 626.5,285.2 622.6,286.8C618.7,288.4 614.8,289.8 610.9,291.4C607.0,292.9 603.2,294.6 599.3,296.1C595.4,297.7 591.1,299.3 587.7,300.7C584.3,302.1 582.1,303.2 579.1,304.4C576.1,305.6 573.3,306.5 569.8,307.9C566.3,309.3 562.0,311.1 558.1,312.6C554.2,314.2 550.4,315.9 546.5,317.2C542.6,318.5 538.8,319.5 534.9,320.7C531.0,321.9 527.2,323.0 523.3,324.2C519.4,325.4 515.5,326.1 511.6,327.7C507.7,329.2 502.6,332.3 500.0,333.5C497.4,334.7 498.4,333.5 495.8,334.7C493.2,335.9 488.1,338.3 484.2,340.6C480.3,342.9 476.5,346.0 472.6,348.7C468.7,351.4 464.8,353.9 460.9,356.8C457.0,359.7 453.2,362.8 449.3,366.1C445.4,369.4 441.6,373.7 437.7,376.6C433.8,379.5 429.9,381.9 426.0,383.6C422.1,385.4 418.3,385.8 414.4,387.1C410.5,388.5 406.7,390.0 402.8,391.7C398.9,393.4 395.1,395.4 391.2,397.5C387.3,399.6 383.4,401.8 379.5,404.5C375.6,407.2 371.8,410.9 367.9,413.8C364.0,416.7 359.9,420.1 356.3,422.0C352.7,423.9 349.0,423.7 346.2,424.9C343.4,426.1 341.6,427.7 339.3,429.1C337.0,430.5 334.6,431.8 332.3,433.2C330.0,434.6 327.6,436.0 325.3,437.4C323.0,438.8 320.7,440.2 318.4,441.6C316.1,443.0 313.7,444.4 311.4,445.8C309.1,447.2 306.8,448.3 304.5,449.9C302.2,451.5 299.8,453.8 297.5,455.5C295.2,457.2 292.8,458.9 290.5,460.4C288.2,461.9 285.9,463.4 283.6,464.6C281.3,465.8 278.9,466.4 276.6,467.4C274.3,468.4 271.9,469.5 269.6,470.8C267.3,472.1 265.0,473.6 262.7,475.0C260.4,476.4 258.0,477.8 255.7,479.2C253.4,480.6 251.0,482.1 248.7,483.4C246.4,484.7 244.1,485.6 241.8,486.9C239.5,488.2 237.1,489.5 234.8,491.0C232.5,492.5 231.2,493.7 227.9,495.9C224.7,498.1 218.6,502.4 215.3,504.1C212.1,505.8 210.7,505.3 208.4,506.1C206.1,506.9 203.7,508.0 201.4,508.9C199.1,509.8 196.8,510.9 194.5,511.7C192.2,512.5 189.8,513.2 187.5,513.8C185.2,514.4 182.8,514.7 180.5,515.2C178.2,515.7 175.9,516.1 173.6,516.6C171.3,517.1 168.9,517.4 166.6,518.0C164.3,518.6 161.9,519.4 159.6,520.1C157.3,520.8 155.0,521.5 152.7,522.2C150.4,522.9 148.0,523.6 145.7,524.2C143.4,524.8 141.0,525.1 138.7,525.6C136.4,526.1 134.1,526.5 131.8,527.0C129.5,527.5 127.1,527.9 124.8,528.4C122.5,528.9 122.8,529.3 117.9,529.8C113.0,530.3 99.3,531.0 95.6,531.3Z" fill="#0070C0" fill-opacity="0.7"/>
<path d="M95.6,524.2C95.9,524.0 96.3,523.7 97.7,523.1C99.1,522.5 101.7,521.6 103.9,520.8C106.1,519.9 108.6,518.8 110.9,518.0C113.2,517.2 115.6,516.4 117.9,515.9C120.2,515.4 122.5,515.0 124.8,514.9C127.1,514.8 129.5,515.5 131.8,515.5C134.1,515.5 136.4,515.8 138.7,515.2C141.0,514.6 143.4,512.8 145.7,511.7C148.0,510.6 150.4,509.7 152.7,508.6C155.0,507.6 157.3,506.6 159.6,505.4C161.9,504.2 164.3,502.6 166.6,501.3C168.9,500.0 171.3,499.2 173.6,497.8C175.9,496.4 178.2,494.3 180.5,492.9C182.8,491.4 185.2,490.4 187.5,489.1C189.8,487.8 192.2,486.5 194.5,485.2C196.8,483.9 199.3,482.1 201.4,481.1C203.5,480.1 204.9,480.0 207.0,479.2C209.1,478.4 211.6,477.3 213.9,476.4C216.2,475.5 218.6,474.8 220.9,473.6C223.2,472.4 225.6,471.0 227.9,469.4C230.2,467.8 232.5,466.1 234.8,463.9C237.1,461.7 239.5,459.0 241.8,456.2C244.1,453.4 246.4,450.0 248.7,447.2C251.0,444.4 253.4,441.7 255.7,439.5C258.0,437.3 260.4,435.8 262.7,433.9C265.0,432.0 267.3,430.2 269.6,428.4C271.9,426.5 273.8,425.4 276.6,422.8C279.4,420.2 282.9,417.1 286.5,412.7C290.1,408.3 294.2,401.2 298.1,396.4C302.0,391.5 305.9,387.7 309.8,383.6C313.7,379.5 317.5,375.7 321.4,372.0C325.3,368.3 329.1,365.0 333.0,361.5C336.9,358.0 340.8,354.5 344.7,351.0C348.6,347.5 352.4,343.4 356.3,340.6C360.2,337.8 364.0,336.3 367.9,334.0C371.8,331.7 375.6,328.8 379.5,326.6C383.4,324.4 387.3,322.3 391.2,320.8C395.1,319.3 398.9,319.1 402.8,317.8C406.7,316.5 410.5,314.5 414.4,313.1C418.3,311.7 422.3,310.9 426.0,309.2C429.7,307.5 432.8,304.5 436.5,303.1C440.2,301.7 444.2,301.5 448.1,300.7C452.0,299.9 455.9,300.3 459.8,298.4C463.7,296.5 467.5,291.9 471.4,289.1C475.3,286.3 479.1,283.3 483.0,281.4C486.9,279.5 490.8,279.4 494.7,277.5C498.6,275.6 502.4,272.3 506.3,269.8C510.2,267.3 514.0,265.1 517.9,262.4C521.8,259.7 526.0,255.6 529.5,253.5C533.0,251.4 535.3,250.4 538.8,249.6C542.3,248.8 547.0,250.1 550.5,248.9C554.0,247.7 556.7,245.6 559.8,242.6C562.9,239.6 566.4,234.3 569.1,231.0C571.8,227.7 572.9,225.9 576.0,222.8C579.1,219.7 583.8,215.7 587.7,212.4C591.6,209.1 595.4,206.4 599.3,203.1C603.2,199.8 607.0,195.3 610.9,192.6C614.8,189.9 618.7,188.9 622.6,186.8C626.5,184.7 631.3,182.0 634.2,179.8C637.1,177.6 637.1,176.4 640.0,173.4C642.9,170.4 647.7,165.1 651.6,161.8C655.5,158.5 659.4,156.2 663.3,153.7C667.2,151.2 671.0,148.8 674.9,146.7C678.8,144.6 682.6,142.4 686.5,140.9C690.4,139.4 694.2,139.2 698.1,137.4C702.0,135.7 705.9,132.7 709.8,130.4C713.7,128.1 717.5,125.3 721.4,123.4C725.3,121.5 729.1,120.3 733.0,118.8C736.9,117.2 740.8,115.4 744.7,114.1C748.6,112.8 752.4,112.2 756.3,110.7C760.2,109.2 764.0,106.4 767.9,104.8C771.8,103.2 775.6,102.8 779.5,101.3C783.4,99.8 787.3,97.4 791.2,95.5C795.1,93.6 798.9,91.4 802.8,89.7C806.7,88.0 810.5,86.4 814.4,85.1C818.3,83.8 822.9,83.0 826.0,82.0C829.1,81.0 830.7,80.0 833.0,79.3C835.3,78.6 837.7,78.2 840.0,78.1C842.3,78.0 844.7,78.1 847.0,78.6C849.3,79.1 851.3,80.2 854.0,81.1C856.7,82.0 860.2,82.9 863.3,83.9C866.4,85.0 869.8,86.2 872.6,87.4C875.4,88.6 876.8,90.1 880.0,90.9C883.2,91.8 887.0,92.2 891.6,92.5C896.2,92.8 903.6,93.0 907.9,92.5C912.2,92.0 914.1,90.6 917.2,89.7C920.3,88.8 923.2,87.6 926.5,86.9C929.8,86.2 933.5,85.8 937.0,85.8C940.5,85.8 943.7,86.2 947.4,86.9C951.1,87.6 955.6,88.5 959.1,89.7C962.6,91.0 965.3,92.3 968.4,94.4C971.5,96.5 975.0,99.6 977.7,102.5C980.4,105.4 982.4,108.9 984.7,111.8C987.0,114.7 989.3,116.7 991.6,120.0C993.9,123.3 996.3,128.3 998.6,131.6C1000.9,134.9 1003.3,137.0 1005.6,139.7C1007.9,142.4 1010.3,144.8 1012.6,147.9C1014.9,151.0 1017.6,155.0 1019.5,158.3C1021.4,161.6 1022.2,164.1 1024.2,167.6C1026.2,171.1 1027.3,174.0 1031.2,179.3C1035.1,184.6 1043.5,194.0 1047.4,199.3C1051.3,204.6 1052.1,206.6 1054.4,210.9C1056.7,215.2 1059.5,220.6 1061.4,224.9C1063.3,229.2 1064.5,231.8 1066.0,236.5C1067.5,241.2 1068.8,247.0 1070.7,252.8C1072.7,258.6 1075.4,266.0 1077.7,271.4C1080.0,276.8 1082.4,280.6 1084.7,285.3C1087.0,290.0 1089.3,294.6 1091.6,299.3C1093.9,304.0 1095.1,307.2 1098.6,313.3C1102.1,319.4 1108.7,329.6 1112.6,335.6C1116.5,341.7 1118.8,345.3 1121.9,349.6C1125.0,353.9 1128.1,356.9 1131.2,361.2C1134.3,365.5 1137.4,370.5 1140.5,375.2C1143.6,379.9 1146.7,384.5 1149.8,389.1C1152.9,393.8 1156.4,398.8 1159.1,403.1C1161.8,407.4 1163.7,410.8 1166.0,414.7C1168.3,418.6 1170.7,422.8 1173.0,426.3C1175.3,429.8 1178.1,433.0 1180.0,435.6C1181.9,438.2 1182.3,438.8 1184.4,442.0C1186.5,445.2 1189.7,450.4 1192.6,454.8C1195.5,459.2 1198.8,464.2 1201.9,468.7C1205.0,473.1 1208.1,478.0 1211.2,481.5C1214.3,485.0 1217.4,487.4 1220.5,489.7C1223.6,492.0 1226.7,493.8 1229.8,495.5C1232.9,497.2 1235.7,498.6 1239.1,500.1C1242.5,501.7 1248.3,504.0 1250.2,504.8L1250.2,531.5C1248.3,531.4 1243.3,531.4 1239.1,531.1C1234.9,530.8 1229.0,530.4 1225.1,529.9C1221.2,529.4 1218.9,528.7 1215.8,528.0C1212.7,527.3 1209.6,526.7 1206.5,525.7C1203.4,524.7 1200.3,523.2 1197.2,522.2C1194.1,521.2 1191.0,520.9 1187.9,519.9C1184.8,518.9 1181.3,517.8 1178.6,516.4C1175.9,515.0 1173.9,513.5 1171.6,511.8C1169.3,510.1 1167.0,508.1 1164.7,506.0C1162.4,503.9 1160.0,501.5 1157.7,499.0C1155.4,496.5 1153.0,494.1 1150.7,490.8C1148.4,487.5 1146.0,483.1 1143.7,479.2C1141.4,475.3 1139.0,471.9 1136.7,467.6C1134.4,463.3 1131.9,457.9 1129.8,453.6C1127.7,449.3 1126.1,445.4 1124.0,442.0C1121.9,438.6 1119.5,436.7 1117.2,433.3C1114.9,429.9 1112.5,425.6 1110.2,421.7C1107.9,417.8 1105.6,414.3 1103.3,410.0C1101.0,405.7 1098.6,400.8 1096.3,396.1C1094.0,391.5 1091.6,386.8 1089.3,382.1C1087.0,377.5 1084.6,373.6 1082.3,368.2C1080.0,362.8 1077.6,355.0 1075.3,349.6C1073.0,344.2 1071.5,342.1 1068.4,335.6C1065.3,329.2 1059.4,316.9 1056.7,310.9C1054.0,304.8 1053.6,303.2 1052.1,299.3C1050.5,295.4 1049.3,291.6 1047.4,287.7C1045.5,283.8 1042.8,280.3 1040.5,276.0C1038.2,271.7 1035.8,267.1 1033.5,262.1C1031.2,257.1 1028.8,251.2 1026.5,245.8C1024.2,240.4 1022.2,234.9 1019.5,229.5C1016.8,224.1 1013.3,218.3 1010.2,213.3C1007.1,208.3 1005.1,205.0 1000.9,199.3C996.6,193.6 988.6,184.0 984.7,179.3C980.8,174.6 980.4,173.8 977.7,171.1C975.0,168.4 971.5,165.5 968.4,163.0C965.3,160.5 962.2,157.9 959.1,156.0C956.0,154.1 952.9,152.9 949.8,151.3C946.7,149.8 943.2,148.0 940.5,146.7C937.8,145.3 936.2,143.9 933.5,143.2C930.8,142.5 927.3,142.6 924.2,142.7C921.1,142.8 918.0,143.2 914.9,143.9C911.8,144.6 908.3,146.4 905.6,146.7C902.9,147.0 900.9,145.9 898.6,145.5C896.3,145.1 894.7,144.8 891.6,144.4C888.5,144.0 883.2,143.2 880.0,143.2C876.8,143.2 875.8,143.9 872.6,144.4C869.4,144.9 864.8,145.5 860.9,146.2C857.0,146.9 853.2,147.5 849.3,148.6C845.4,149.7 841.6,150.9 837.7,152.5C833.8,154.1 829.9,156.0 826.0,158.3C822.1,160.6 818.3,164.4 814.4,166.5C810.5,168.6 806.7,169.4 802.8,171.1C798.9,172.8 795.1,175.2 791.2,176.9C787.3,178.7 783.0,180.1 779.5,181.6C776.0,183.1 774.1,184.6 770.2,186.2C766.3,187.8 760.5,190.0 756.3,191.2C752.0,192.4 748.6,192.7 744.7,193.5C740.8,194.3 736.9,194.8 733.0,195.8C729.1,196.8 725.3,197.9 721.4,199.3C717.5,200.7 713.7,202.2 709.8,204.0C705.9,205.8 702.0,207.9 698.1,209.8C694.2,211.7 690.4,213.3 686.5,215.6C682.6,217.9 678.8,221.4 674.9,223.7C671.0,226.0 667.2,227.8 663.3,229.5C659.4,231.2 655.5,232.1 651.6,234.2C647.7,236.3 642.9,240.3 640.0,242.3C637.1,244.3 637.1,244.1 634.2,246.1C631.3,248.1 626.5,252.1 622.6,254.2C618.7,256.3 614.8,257.7 610.9,258.9C607.0,260.1 603.2,260.2 599.3,261.2C595.4,262.2 591.6,263.5 587.7,264.7C583.8,265.9 579.9,266.4 576.0,268.2C572.1,269.9 568.3,272.5 564.4,275.2C560.5,277.9 556.7,281.2 552.8,284.5C548.9,287.8 545.3,291.0 541.2,294.9C537.1,298.8 532.1,304.3 528.4,308.0C524.7,311.7 522.6,314.6 519.1,317.3C515.6,320.0 511.3,322.4 507.4,324.3C503.5,326.2 499.7,327.3 495.8,328.9C491.9,330.4 488.1,331.7 484.2,333.6C480.3,335.6 476.5,338.1 472.6,340.6C468.7,343.1 464.8,346.6 460.9,348.7C457.0,350.8 453.2,351.9 449.3,353.3C445.4,354.7 441.6,355.2 437.7,356.8C433.8,358.4 429.9,360.4 426.0,362.7C422.1,365.0 418.3,368.1 414.4,370.8C410.5,373.5 406.7,376.4 402.8,378.9C398.9,381.4 395.1,383.8 391.2,385.9C387.3,388.0 383.4,389.8 379.5,391.7C375.6,393.6 371.8,395.2 367.9,397.5C364.0,399.8 360.2,403.4 356.3,405.7C352.4,408.0 348.6,409.6 344.7,411.5C340.8,413.4 336.2,415.4 333.0,417.3C329.8,419.2 327.7,421.0 325.3,422.8C322.9,424.6 320.7,426.3 318.4,428.4C316.1,430.5 313.7,433.3 311.4,435.3C309.1,437.3 306.8,438.6 304.5,440.2C302.2,441.8 299.8,443.8 297.5,445.1C295.2,446.4 292.8,446.9 290.5,447.9C288.2,448.9 285.9,450.3 283.6,451.3C281.3,452.3 278.9,452.8 276.6,454.1C274.3,455.4 271.9,457.4 269.6,459.0C267.3,460.6 265.0,462.3 262.7,463.9C260.4,465.5 258.0,467.2 255.7,468.7C253.4,470.2 251.0,471.6 248.7,472.9C246.4,474.2 244.1,475.0 241.8,476.4C239.5,477.8 237.1,479.3 234.8,481.3C232.5,483.3 230.2,486.1 227.9,488.2C225.6,490.3 224.2,491.7 220.9,493.8C217.7,495.9 211.7,499.4 208.4,500.6C205.2,501.8 203.7,500.7 201.4,500.8C199.1,500.9 196.8,501.0 194.5,501.3C192.2,501.6 189.8,502.1 187.5,502.7C185.2,503.3 182.8,503.9 180.5,504.7C178.2,505.5 175.9,506.4 173.6,507.5C171.3,508.6 168.9,509.8 166.6,511.0C164.3,512.2 161.9,513.5 159.6,514.5C157.3,515.5 155.0,516.3 152.7,517.0C150.4,517.7 148.0,518.1 145.7,518.7C143.4,519.3 141.0,520.1 138.7,520.8C136.4,521.5 134.1,522.1 131.8,522.9C129.5,523.7 128.3,524.8 124.8,525.6C121.3,526.4 115.4,527.2 110.9,527.7C106.4,528.2 100.2,528.2 97.7,528.4C95.2,528.6 95.9,528.7 95.6,528.7Z" fill="#1F3864" fill-opacity="0.7"/>
<path d="M95.6,531.6C113.2,531.5 181.9,531.4 201.4,531.2C220.9,531.0 209.1,530.9 212.6,530.5C216.1,530.1 219.5,529.6 222.3,529.1C225.1,528.6 227.0,528.2 229.3,527.7C231.6,527.2 233.9,526.9 236.2,526.3C238.5,525.7 240.9,525.0 243.2,524.2C245.5,523.4 247.9,522.3 250.2,521.5C252.5,520.7 254.8,520.3 257.1,519.4C259.4,518.5 262.2,516.9 264.1,515.9C266.0,514.9 261.4,516.5 268.3,513.4C275.2,510.3 298.2,500.3 305.8,497.4C313.4,494.5 311.4,496.3 314.2,495.9C317.0,495.5 320.1,495.1 322.6,494.8C325.2,494.5 326.7,494.1 329.5,493.8C332.3,493.5 335.8,493.3 339.3,493.1C342.8,492.9 347.4,492.8 350.4,492.4C353.4,492.0 355.1,491.9 357.4,491.0C359.7,490.1 362.2,488.8 364.3,486.9C366.4,485.0 368.0,482.5 369.9,479.9C371.8,477.3 373.8,473.6 375.5,471.5C377.2,469.4 378.4,468.4 379.9,467.4C381.4,466.4 382.4,466.2 384.6,465.5C386.8,464.8 390.1,464.0 392.9,463.4C395.7,462.8 398.5,462.7 401.3,462.0C404.1,461.3 407.3,460.2 409.6,459.2C411.9,458.1 413.3,456.8 415.2,455.7C417.1,454.6 418.9,453.8 420.8,452.9C422.7,452.0 424.1,451.2 426.4,450.1C428.7,449.0 432.1,447.4 434.7,446.0C437.2,444.6 439.8,443.2 441.7,441.8C443.6,440.4 444.2,439.1 445.8,437.6C447.4,436.1 449.5,434.1 451.4,432.7C453.3,431.3 455.1,430.1 457.0,429.2C458.9,428.3 460.8,427.8 462.6,427.2C464.5,426.6 465.8,426.3 468.1,425.8C470.4,425.3 473.7,424.9 476.5,424.4C479.3,423.9 482.0,423.4 484.8,423.0C487.6,422.6 490.6,422.7 493.2,422.3C495.8,421.9 497.9,421.7 500.2,420.9C502.5,420.1 504.8,418.6 507.1,417.4C509.4,416.2 511.4,415.1 514.1,413.9C516.8,412.7 519.8,411.6 523.3,410.2C526.8,408.8 531.8,407.2 534.9,405.6C538.0,404.1 539.6,402.1 541.9,400.9C544.2,399.7 546.9,399.0 548.8,398.6C550.7,398.2 550.0,399.8 553.5,398.6C557.0,397.4 565.1,393.0 569.8,391.2C574.4,389.4 577.5,388.8 581.4,387.9C585.3,387.0 589.1,386.6 593.0,386.0C596.9,385.4 600.8,384.8 604.7,384.2C608.6,383.6 612.4,382.9 616.3,382.1C620.2,381.3 624.0,380.2 627.9,379.5C631.8,378.8 635.6,378.3 639.5,377.7C643.4,377.1 647.3,376.4 651.2,375.8C655.1,375.2 658.9,374.9 662.8,374.2C666.7,373.5 670.5,372.7 674.4,371.9C678.3,371.1 682.1,370.3 686.0,369.5C689.9,368.7 693.8,368.3 697.7,367.2C701.6,366.1 705.4,364.4 709.3,362.6C713.2,360.9 717.0,358.6 720.9,356.7C724.8,354.8 728.7,352.8 732.6,350.9C736.5,349.0 740.3,347.0 744.2,345.1C748.1,343.2 753.2,340.8 755.8,339.3C758.4,337.9 756.7,337.6 760.0,336.4C763.3,335.1 771.1,332.9 775.5,331.8C779.9,330.7 782.4,330.4 786.3,329.5C790.2,328.6 794.6,327.7 798.7,326.4C802.8,325.1 807.2,323.1 811.1,321.7C815.0,320.3 818.8,318.8 821.9,317.9C825.0,316.9 826.6,316.6 829.7,316.0C832.8,315.4 836.6,314.9 840.5,314.5C844.4,314.1 848.2,313.7 852.9,313.5C857.5,313.3 863.8,313.4 868.4,313.2C873.0,312.9 876.1,312.2 880.7,312.0C885.3,311.8 893.0,311.2 896.2,311.7C899.4,312.2 898.6,313.2 900.1,314.8C901.6,316.4 903.6,318.6 905.5,321.0C907.4,323.4 909.6,326.4 911.7,329.5C913.8,332.6 915.8,336.1 917.9,339.5C920.0,342.9 922.0,346.6 924.1,349.6C926.2,352.6 928.2,354.9 930.3,357.3C932.4,359.8 934.4,362.0 936.5,364.3C938.6,366.6 940.8,369.3 942.7,371.3C944.6,373.3 945.8,373.0 948.1,376.4C950.4,379.8 954.1,386.6 956.7,391.4C959.3,396.2 961.4,400.3 963.7,405.4C966.0,410.4 967.6,415.0 970.7,421.7C973.8,428.4 979.6,440.6 982.1,445.5C984.6,450.4 984.6,449.6 985.6,451.3C986.6,453.1 986.8,453.4 988.1,456.0C989.5,458.6 991.9,463.4 993.7,467.1C995.6,470.8 997.4,474.8 999.2,478.3C1001.1,481.8 1003.2,485.0 1004.8,488.0C1006.4,491.0 1007.1,493.8 1009.0,496.4C1010.9,499.0 1013.7,501.1 1016.0,503.4C1018.3,505.7 1020.4,508.0 1022.9,510.3C1025.5,512.6 1028.0,515.1 1031.3,517.3C1034.5,519.5 1038.7,521.8 1042.4,523.5C1046.1,525.2 1050.3,526.6 1053.6,527.7C1056.8,528.8 1059.8,529.5 1061.9,530.1C1064.0,530.7 1034.7,530.8 1066.1,531.1C1097.5,531.4 1219.5,531.7 1250.2,531.8" fill="none" stroke="#FF0000" stroke-width="2" stroke-linejoin="round"/>
<path d="M95.6,531.5C110.9,531.4 170.3,531.4 187.5,530.9C204.7,530.4 195.1,529.5 198.6,528.4C202.1,527.3 205.6,525.3 208.4,524.2C211.2,523.1 213.0,522.5 215.3,521.7C217.6,520.9 220.0,520.1 222.3,519.4C224.6,518.7 227.0,518.0 229.3,517.3C231.6,516.6 233.9,515.9 236.2,515.2C238.5,514.5 240.9,513.8 243.2,513.1C245.5,512.4 248.3,511.9 250.2,511.0C252.0,510.1 252.7,508.6 254.3,507.5C255.9,506.4 258.0,504.9 259.9,504.1C261.8,503.3 263.2,503.9 265.5,502.7C267.8,501.4 271.2,498.1 273.8,496.6C276.4,495.1 278.5,494.7 280.8,493.8C283.1,492.9 285.4,491.9 287.7,491.0C290.0,490.1 292.4,489.2 294.7,488.2C297.0,487.2 299.4,485.9 301.7,484.8C304.0,483.7 306.3,482.6 308.6,481.3C310.9,480.0 313.3,478.4 315.6,477.1C317.9,475.8 320.3,474.4 322.6,473.6C324.9,472.8 327.2,472.7 329.5,472.2C331.8,471.7 334.2,471.4 336.5,470.8C338.8,470.2 341.2,469.4 343.5,468.7C345.8,468.0 348.1,467.5 350.4,466.7C352.7,465.9 355.1,464.9 357.4,463.9C359.7,462.8 362.0,461.7 364.3,460.4C366.6,459.1 368.7,457.5 371.3,456.2C373.9,454.9 378.1,453.5 379.9,452.7C381.6,451.9 380.1,452.3 381.8,451.5C383.5,450.7 387.3,448.9 390.1,448.1C392.9,447.3 395.7,447.2 398.5,446.7C401.3,446.2 404.3,446.4 406.9,445.3C409.4,444.2 411.5,442.0 413.8,440.4C416.1,438.8 418.5,437.0 420.8,435.5C423.1,434.0 425.4,432.7 427.7,431.3C430.0,429.9 432.1,428.7 434.7,427.2C437.3,425.7 440.3,424.1 443.1,422.3C445.9,420.6 448.6,418.1 451.4,416.7C454.2,415.3 457.0,414.8 459.8,413.9C462.6,413.0 466.4,411.7 468.1,411.1C469.8,410.5 468.3,411.1 470.0,410.4C471.7,409.7 475.4,407.7 478.4,406.7C481.4,405.7 485.6,405.3 488.1,404.3C490.7,403.3 490.9,401.9 493.7,400.7C496.5,399.5 501.1,398.2 504.8,396.9C508.5,395.6 512.5,394.1 516.0,392.7C519.5,391.3 522.7,390.0 525.7,388.6C528.7,387.2 531.3,385.7 534.1,384.4C536.9,383.1 539.6,381.5 542.4,380.6C545.2,379.7 548.0,379.5 550.8,378.8C553.6,378.1 556.3,377.5 559.1,376.4C561.9,375.3 564.7,373.8 567.5,372.3C570.3,370.9 573.1,369.3 575.8,367.7C578.5,366.1 580.6,364.5 583.5,362.5C586.4,360.5 589.5,358.1 593.0,355.6C596.5,353.1 600.8,349.7 604.7,347.4C608.6,345.1 612.4,343.0 616.3,341.6C620.2,340.2 624.0,339.9 627.9,339.3C631.8,338.7 635.6,338.5 639.5,338.1C643.4,337.7 647.3,337.6 651.2,337.0C655.1,336.4 658.9,335.7 662.8,334.7C666.7,333.7 670.5,332.4 674.4,331.2C678.3,330.0 682.1,328.9 686.0,327.7C689.9,326.5 693.8,325.2 697.7,324.2C701.6,323.2 705.4,323.1 709.3,321.9C713.2,320.7 717.0,318.8 720.9,317.2C724.8,315.6 728.7,314.4 732.6,312.6C736.5,310.9 740.3,308.4 744.2,306.7C748.1,304.9 753.2,303.0 755.8,302.1C758.4,301.2 757.8,302.3 760.0,301.6C762.2,300.9 766.2,299.0 769.3,297.7C772.4,296.4 775.8,294.9 778.6,293.9C781.4,292.9 784.2,292.1 786.3,291.5C788.4,290.9 788.2,291.0 791.0,290.0C793.8,289.0 798.9,286.3 802.8,285.3C806.7,284.3 810.5,284.5 814.4,284.2C818.3,283.9 822.1,283.8 826.0,283.7C829.9,283.6 833.8,283.5 837.7,283.5C841.6,283.5 845.4,283.2 849.3,283.5C853.2,283.8 857.0,284.4 860.9,285.3C864.8,286.2 869.4,288.0 872.6,288.8C875.8,289.6 877.6,289.5 880.0,290.1C882.4,290.7 884.6,291.1 886.9,292.2C889.2,293.2 891.6,294.9 893.9,296.4C896.2,297.9 898.5,299.6 900.8,301.2C903.1,302.8 905.5,304.1 907.8,306.1C910.1,308.1 912.4,310.7 914.7,313.1C917.0,315.5 919.6,318.4 921.7,320.7C923.8,323.0 925.4,324.7 927.2,326.9C929.1,329.1 931.2,331.6 932.8,333.9C934.4,336.2 935.5,338.5 936.9,340.8C938.3,343.1 940.2,346.3 941.1,347.8C942.0,349.3 940.7,348.3 942.5,350.0C944.3,351.7 949.6,355.7 952.0,358.1C954.4,360.5 953.9,359.5 956.6,364.3C959.3,369.1 964.9,381.1 968.4,386.8C971.9,392.5 974.6,394.5 977.7,398.4C980.8,402.3 983.9,405.7 987.0,410.0C990.1,414.3 993.2,419.7 996.3,424.0C999.4,428.3 1002.9,431.6 1005.6,435.6C1008.3,439.6 1010.6,444.8 1012.3,447.8C1014.0,450.8 1014.0,450.8 1015.8,453.6C1017.6,456.4 1020.8,461.2 1022.9,464.4C1025.0,467.6 1026.4,469.7 1028.5,472.7C1030.6,475.7 1033.2,479.2 1035.5,482.5C1037.8,485.8 1040.1,489.2 1042.4,492.2C1044.7,495.2 1047.1,498.1 1049.4,500.6C1051.7,503.2 1053.9,505.4 1056.4,507.5C1059.0,509.6 1061.9,511.4 1064.7,513.1C1067.5,514.9 1070.3,516.6 1073.1,518.0C1075.9,519.4 1078.6,520.4 1081.4,521.5C1084.2,522.6 1087.0,523.9 1089.8,524.9C1092.6,525.9 1095.3,526.9 1098.1,527.7C1100.9,528.5 1104.6,529.0 1106.5,529.5C1108.4,530.0 1108.1,530.3 1109.3,530.5C1110.5,530.7 1090.0,530.6 1113.5,530.8C1137.0,531.0 1227.4,531.6 1250.2,531.8" fill="none" stroke="#FF0000" stroke-width="1.6" stroke-linejoin="round"/>
<path d="M95.6,531.5C108.6,531.4 159.4,531.2 173.6,530.7C187.8,530.2 178.2,529.0 180.5,528.4C182.8,527.8 185.2,527.6 187.5,527.0C189.8,526.4 192.2,525.6 194.5,524.9C196.8,524.2 199.1,523.7 201.4,522.9C203.7,522.1 206.1,521.1 208.4,520.3C210.7,519.5 213.0,518.9 215.3,518.0C217.6,517.1 220.0,516.1 222.3,515.2C224.6,514.3 227.0,513.3 229.3,512.4C231.6,511.5 233.9,510.5 236.2,509.6C238.5,508.7 240.9,507.7 243.2,506.8C245.5,505.9 246.9,505.7 250.2,504.1C253.4,502.5 259.5,499.0 262.7,497.3C265.9,495.6 267.3,494.9 269.6,493.8C271.9,492.8 274.3,491.9 276.6,491.0C278.9,490.1 281.3,489.1 283.6,488.2C285.9,487.3 288.2,486.6 290.5,485.5C292.8,484.4 295.2,482.7 297.5,481.3C299.8,479.9 302.2,478.6 304.5,477.1C306.8,475.6 309.1,473.6 311.4,472.2C313.7,470.8 316.1,469.6 318.4,468.7C320.7,467.8 323.0,467.4 325.3,466.7C327.6,466.0 330.0,465.3 332.3,464.6C334.6,463.9 337.0,463.2 339.3,462.5C341.6,461.8 343.9,461.2 346.2,460.4C348.5,459.6 350.9,458.7 353.2,457.6C355.5,456.6 357.9,455.2 360.2,454.1C362.5,453.1 364.8,452.0 367.1,451.3C369.4,450.6 372.0,450.5 374.1,449.9C376.2,449.3 377.7,448.8 379.9,447.9C382.1,447.0 384.8,445.6 387.4,444.3C390.0,443.1 392.9,441.9 395.7,440.4C398.5,438.9 401.3,437.1 404.1,435.5C406.9,433.9 409.6,432.2 412.4,430.6C415.2,429.0 418.0,427.4 420.8,425.8C423.6,424.2 426.3,422.4 429.1,420.9C431.9,419.4 434.7,418.0 437.5,416.7C440.3,415.4 443.0,414.2 445.8,413.2C448.6,412.1 451.4,411.4 454.2,410.4C457.0,409.4 460.1,408.8 462.6,407.0C465.1,405.2 466.6,401.8 469.1,399.9C471.6,398.0 474.7,397.4 477.5,395.9C480.3,394.4 483.0,392.6 485.8,391.0C488.6,389.4 491.4,387.8 494.2,386.2C497.0,384.6 499.8,383.2 502.6,381.3C505.4,379.4 508.1,376.9 510.9,375.0C513.7,373.1 516.5,371.4 519.3,370.1C522.1,368.8 524.8,368.4 527.6,367.4C530.4,366.4 533.2,364.9 536.0,363.9C538.8,362.8 541.8,362.3 544.3,361.1C546.8,359.9 548.7,358.3 551.3,356.9C553.9,355.5 556.8,354.3 559.9,352.7C563.0,351.1 566.2,349.0 569.8,347.4C573.4,345.8 577.5,344.5 581.4,342.8C585.3,341.1 589.1,338.6 593.0,337.0C596.9,335.4 600.8,334.7 604.7,333.5C608.6,332.3 612.4,331.4 616.3,330.0C620.2,328.6 624.0,326.9 627.9,325.3C631.8,323.8 637.5,321.4 639.5,320.7C641.5,320.0 638.0,321.7 640.0,321.4C642.0,321.1 647.7,319.9 651.6,319.1C655.5,318.3 659.4,317.7 663.3,316.7C667.2,315.7 671.0,314.3 674.9,313.3C678.8,312.3 682.6,312.2 686.5,310.9C690.4,309.6 694.2,306.8 698.1,305.3C702.0,303.8 705.9,303.9 709.8,302.1C713.7,300.3 718.4,296.6 721.4,294.7C724.4,292.8 725.8,291.9 727.9,290.5C730.0,289.1 731.4,287.2 734.2,286.0C737.0,284.8 741.0,284.1 744.7,283.0C748.4,281.9 752.4,280.7 756.3,279.5C760.2,278.3 764.0,277.1 767.9,276.0C771.8,274.9 775.6,273.4 779.5,272.6C783.4,271.8 787.3,272.6 791.2,271.4C795.1,270.2 798.9,267.0 802.8,265.6C806.7,264.2 810.5,264.1 814.4,263.3C818.3,262.5 822.1,261.5 826.0,260.9C829.9,260.3 833.8,260.1 837.7,259.8C841.6,259.5 845.4,259.3 849.3,259.3C853.2,259.3 857.0,259.0 860.9,259.8C864.8,260.6 869.0,262.7 872.6,264.4C876.2,266.1 879.7,268.1 882.8,270.0C885.9,271.9 888.3,273.8 891.1,275.6C893.9,277.5 896.6,279.0 899.4,281.1C902.2,283.2 905.0,285.6 907.8,288.1C910.6,290.7 913.5,294.0 916.1,296.4C918.7,298.8 920.8,300.5 923.1,302.6C925.4,304.7 927.9,306.9 930.0,308.9C932.1,310.9 933.8,312.3 935.6,314.4C937.5,316.5 939.5,319.1 941.1,321.4C942.7,323.7 943.9,325.8 945.3,328.3C946.7,330.9 948.0,333.9 949.4,336.7C950.8,339.5 952.4,342.8 953.6,345.0C954.8,347.2 954.3,346.5 956.4,350.0C958.5,353.5 962.9,360.9 966.0,365.9C969.1,370.9 972.2,375.6 975.3,379.8C978.4,384.1 981.6,387.9 984.7,391.4C987.8,394.9 990.9,397.2 994.0,400.7C997.1,404.2 1000.6,408.9 1003.3,412.4C1006.0,415.9 1007.5,418.2 1010.2,421.7C1012.9,425.2 1016.2,429.3 1019.5,433.3C1022.8,437.3 1027.3,442.1 1029.8,445.5C1032.3,448.9 1032.3,450.5 1034.4,453.6C1036.5,456.8 1040.1,461.2 1042.4,464.4C1044.7,467.6 1045.9,469.7 1048.0,472.7C1050.1,475.7 1052.7,479.5 1055.0,482.5C1057.3,485.5 1059.6,488.0 1061.9,490.8C1064.2,493.6 1066.6,496.8 1068.9,499.2C1071.2,501.6 1073.5,503.4 1075.8,505.4C1078.1,507.4 1080.2,509.1 1082.8,511.0C1085.4,512.9 1088.4,514.9 1091.2,516.6C1094.0,518.4 1096.7,520.1 1099.5,521.5C1102.3,522.9 1105.1,523.9 1107.9,524.9C1110.7,525.9 1113.2,526.9 1116.2,527.7C1119.2,528.5 1122.6,529.2 1126.0,529.8C1129.4,530.4 1116.0,530.8 1136.7,531.1C1157.4,531.4 1231.3,531.7 1250.2,531.8" fill="none" stroke="#3E7B1F" stroke-width="1.9" stroke-linejoin="round"/>
<path d="M95.6,531.3C99.3,531.0 113.0,530.3 117.9,529.8C122.8,529.3 122.5,528.9 124.8,528.4C127.1,527.9 129.5,527.5 131.8,527.0C134.1,526.5 136.4,526.1 138.7,525.6C141.0,525.1 143.4,524.8 145.7,524.2C148.0,523.6 150.4,522.9 152.7,522.2C155.0,521.5 157.3,520.8 159.6,520.1C161.9,519.4 164.3,518.6 166.6,518.0C168.9,517.4 171.3,517.1 173.6,516.6C175.9,516.1 178.2,515.7 180.5,515.2C182.8,514.7 185.2,514.4 187.5,513.8C189.8,513.2 192.2,512.5 194.5,511.7C196.8,510.9 199.1,509.8 201.4,508.9C203.7,508.0 206.1,506.9 208.4,506.1C210.7,505.3 212.1,505.8 215.3,504.1C218.6,502.4 224.7,498.1 227.9,495.9C231.2,493.7 232.5,492.5 234.8,491.0C237.1,489.5 239.5,488.2 241.8,486.9C244.1,485.6 246.4,484.7 248.7,483.4C251.0,482.1 253.4,480.6 255.7,479.2C258.0,477.8 260.4,476.4 262.7,475.0C265.0,473.6 267.3,472.1 269.6,470.8C271.9,469.5 274.3,468.4 276.6,467.4C278.9,466.4 281.3,465.8 283.6,464.6C285.9,463.4 288.2,461.9 290.5,460.4C292.8,458.9 295.2,457.2 297.5,455.5C299.8,453.8 302.2,451.5 304.5,449.9C306.8,448.3 309.1,447.2 311.4,445.8C313.7,444.4 316.1,443.0 318.4,441.6C320.7,440.2 323.0,438.8 325.3,437.4C327.6,436.0 330.0,434.6 332.3,433.2C334.6,431.8 337.0,430.5 339.3,429.1C341.6,427.7 343.4,426.1 346.2,424.9C349.0,423.7 352.7,423.9 356.3,422.0C359.9,420.1 364.0,416.7 367.9,413.8C371.8,410.9 375.6,407.2 379.5,404.5C383.4,401.8 387.3,399.6 391.2,397.5C395.1,395.4 398.9,393.4 402.8,391.7C406.7,390.0 410.5,388.5 414.4,387.1C418.3,385.8 422.1,385.4 426.0,383.6C429.9,381.9 433.8,379.5 437.7,376.6C441.6,373.7 445.4,369.4 449.3,366.1C453.2,362.8 457.0,359.7 460.9,356.8C464.8,353.9 468.7,351.4 472.6,348.7C476.5,346.0 480.3,342.9 484.2,340.6C488.1,338.3 493.2,335.9 495.8,334.7C498.4,333.5 497.4,334.7 500.0,333.5C502.6,332.3 507.7,329.2 511.6,327.7C515.5,326.1 519.4,325.4 523.3,324.2C527.2,323.0 531.0,321.9 534.9,320.7C538.8,319.5 542.6,318.5 546.5,317.2C550.4,315.9 554.2,314.2 558.1,312.6C562.0,311.1 566.3,309.3 569.8,307.9C573.3,306.5 576.1,305.6 579.1,304.4C582.1,303.2 584.3,302.1 587.7,300.7C591.1,299.3 595.4,297.7 599.3,296.1C603.2,294.6 607.0,292.9 610.9,291.4C614.8,289.8 618.7,288.4 622.6,286.8C626.5,285.2 631.3,283.5 634.2,282.1C637.1,280.7 637.1,280.0 640.0,278.4C642.9,276.8 647.7,274.4 651.6,272.6C655.5,270.9 659.4,270.0 663.3,267.9C667.2,265.8 671.0,262.3 674.9,259.8C678.8,257.3 682.6,254.9 686.5,252.8C690.4,250.7 694.2,248.9 698.1,247.0C702.0,245.1 705.9,242.9 709.8,241.2C713.7,239.4 717.5,237.9 721.4,236.5C725.3,235.1 729.1,234.3 733.0,233.0C736.9,231.7 740.8,230.0 744.7,228.4C748.6,226.8 752.4,225.4 756.3,223.7C760.2,221.9 764.0,219.6 767.9,217.9C771.8,216.2 775.6,214.9 779.5,213.3C783.4,211.8 787.3,210.0 791.2,208.6C795.1,207.2 798.9,206.4 802.8,205.1C806.7,203.8 810.5,201.8 814.4,200.5C818.3,199.2 822.1,198.0 826.0,197.0C829.9,196.0 833.8,195.5 837.7,194.7C841.6,193.9 845.8,193.1 849.3,192.3C852.8,191.5 855.9,190.8 858.6,190.0C861.3,189.2 863.3,188.0 865.6,187.4C867.9,186.8 869.9,186.3 872.6,186.2C875.3,186.1 879.1,186.1 881.9,186.7C884.7,187.3 886.5,188.7 889.3,190.0C892.1,191.3 895.5,193.1 898.6,194.7C901.7,196.2 904.4,197.8 907.9,199.3C911.4,200.9 915.6,201.7 919.5,204.0C923.4,206.3 927.7,210.0 931.2,213.3C934.7,216.6 937.4,220.2 940.5,223.7C943.6,227.2 946.7,230.5 949.8,234.2C952.9,237.9 956.0,242.3 959.1,245.8C962.2,249.3 965.3,252.0 968.4,255.1C971.5,258.2 975.0,261.3 977.7,264.4C980.4,267.5 982.4,270.2 984.7,273.7C987.0,277.2 989.3,281.6 991.6,285.3C993.9,289.0 996.3,291.9 998.6,295.8C1000.9,299.7 1003.5,303.9 1005.6,308.6C1007.7,313.3 1008.3,319.1 1011.4,324.0C1014.5,328.9 1020.5,333.0 1024.2,338.0C1027.9,343.0 1030.4,348.8 1033.5,354.2C1036.6,359.6 1039.7,365.4 1042.8,370.5C1045.9,375.6 1049.4,379.9 1052.1,384.5C1054.8,389.1 1056.8,394.5 1059.1,398.4C1061.4,402.3 1063.3,404.6 1066.0,407.7C1068.7,410.8 1072.6,413.9 1075.3,417.0C1078.0,420.1 1080.0,423.2 1082.3,426.3C1084.6,429.4 1086.0,431.4 1089.3,435.6C1092.6,439.8 1098.2,446.8 1101.9,451.3C1105.6,455.9 1108.1,459.0 1111.2,462.9C1114.3,466.8 1117.8,471.1 1120.5,474.6C1123.2,478.1 1125.1,481.0 1127.4,483.9C1129.7,486.8 1132.1,489.5 1134.4,492.0C1136.7,494.5 1139.1,496.9 1141.4,499.0C1143.7,501.1 1145.7,502.7 1148.4,504.8C1151.1,506.9 1154.6,509.5 1157.7,511.8C1160.8,514.1 1164.3,516.8 1167.0,518.7C1169.7,520.6 1171.3,521.9 1174.0,523.4C1176.7,524.9 1180.2,526.5 1183.3,527.6C1186.4,528.7 1189.1,529.3 1192.6,529.9C1196.1,530.5 1194.6,530.8 1204.2,531.1C1213.8,531.4 1242.5,531.7 1250.2,531.8" fill="none" stroke="#1F6A5A" stroke-width="1.9" stroke-linejoin="round"/>
<path d="M95.6,528.7C95.9,528.7 95.2,528.6 97.7,528.4C100.2,528.2 106.4,528.2 110.9,527.7C115.4,527.2 121.3,526.4 124.8,525.6C128.3,524.8 129.5,523.7 131.8,522.9C134.1,522.1 136.4,521.5 138.7,520.8C141.0,520.1 143.4,519.3 145.7,518.7C148.0,518.1 150.4,517.7 152.7,517.0C155.0,516.3 157.3,515.5 159.6,514.5C161.9,513.5 164.3,512.2 166.6,511.0C168.9,509.8 171.3,508.6 173.6,507.5C175.9,506.4 178.2,505.5 180.5,504.7C182.8,503.9 185.2,503.3 187.5,502.7C189.8,502.1 192.2,501.6 194.5,501.3C196.8,501.0 199.1,500.9 201.4,500.8C203.7,500.7 205.2,501.8 208.4,500.6C211.7,499.4 217.7,495.9 220.9,493.8C224.2,491.7 225.6,490.3 227.9,488.2C230.2,486.1 232.5,483.3 234.8,481.3C237.1,479.3 239.5,477.8 241.8,476.4C244.1,475.0 246.4,474.2 248.7,472.9C251.0,471.6 253.4,470.2 255.7,468.7C258.0,467.2 260.4,465.5 262.7,463.9C265.0,462.3 267.3,460.6 269.6,459.0C271.9,457.4 274.3,455.4 276.6,454.1C278.9,452.8 281.3,452.3 283.6,451.3C285.9,450.3 288.2,448.9 290.5,447.9C292.8,446.9 295.2,446.4 297.5,445.1C299.8,443.8 302.2,441.8 304.5,440.2C306.8,438.6 309.1,437.3 311.4,435.3C313.7,433.3 316.1,430.5 318.4,428.4C320.7,426.3 322.9,424.6 325.3,422.8C327.7,421.0 329.8,419.2 333.0,417.3C336.2,415.4 340.8,413.4 344.7,411.5C348.6,409.6 352.4,408.0 356.3,405.7C360.2,403.4 364.0,399.8 367.9,397.5C371.8,395.2 375.6,393.6 379.5,391.7C383.4,389.8 387.3,388.0 391.2,385.9C395.1,383.8 398.9,381.4 402.8,378.9C406.7,376.4 410.5,373.5 414.4,370.8C418.3,368.1 422.1,365.0 426.0,362.7C429.9,360.4 433.8,358.4 437.7,356.8C441.6,355.2 445.4,354.7 449.3,353.3C453.2,351.9 457.0,350.8 460.9,348.7C464.8,346.6 468.7,343.1 472.6,340.6C476.5,338.1 480.3,335.6 484.2,333.6C488.1,331.7 491.9,330.4 495.8,328.9C499.7,327.3 503.5,326.2 507.4,324.3C511.3,322.4 515.6,320.0 519.1,317.3C522.6,314.6 524.7,311.7 528.4,308.0C532.1,304.3 537.1,298.8 541.2,294.9C545.3,291.0 548.9,287.8 552.8,284.5C556.7,281.2 560.5,277.9 564.4,275.2C568.3,272.5 572.1,269.9 576.0,268.2C579.9,266.4 583.8,265.9 587.7,264.7C591.6,263.5 595.4,262.2 599.3,261.2C603.2,260.2 607.0,260.1 610.9,258.9C614.8,257.7 618.7,256.3 622.6,254.2C626.5,252.1 631.3,248.1 634.2,246.1C637.1,244.1 637.1,244.3 640.0,242.3C642.9,240.3 647.7,236.3 651.6,234.2C655.5,232.1 659.4,231.2 663.3,229.5C667.2,227.8 671.0,226.0 674.9,223.7C678.8,221.4 682.6,217.9 686.5,215.6C690.4,213.3 694.2,211.7 698.1,209.8C702.0,207.9 705.9,205.8 709.8,204.0C713.7,202.2 717.5,200.7 721.4,199.3C725.3,197.9 729.1,196.8 733.0,195.8C736.9,194.8 740.8,194.3 744.7,193.5C748.6,192.7 752.0,192.4 756.3,191.2C760.5,190.0 766.3,187.8 770.2,186.2C774.1,184.6 776.0,183.1 779.5,181.6C783.0,180.1 787.3,178.7 791.2,176.9C795.1,175.2 798.9,172.8 802.8,171.1C806.7,169.4 810.5,168.6 814.4,166.5C818.3,164.4 822.1,160.6 826.0,158.3C829.9,156.0 833.8,154.1 837.7,152.5C841.6,150.9 845.4,149.7 849.3,148.6C853.2,147.5 857.0,146.9 860.9,146.2C864.8,145.5 869.4,144.9 872.6,144.4C875.8,143.9 876.8,143.2 880.0,143.2C883.2,143.2 888.5,144.0 891.6,144.4C894.7,144.8 896.3,145.1 898.6,145.5C900.9,145.9 902.9,147.0 905.6,146.7C908.3,146.4 911.8,144.6 914.9,143.9C918.0,143.2 921.1,142.8 924.2,142.7C927.3,142.6 930.8,142.5 933.5,143.2C936.2,143.9 937.8,145.3 940.5,146.7C943.2,148.0 946.7,149.8 949.8,151.3C952.9,152.9 956.0,154.1 959.1,156.0C962.2,157.9 965.3,160.5 968.4,163.0C971.5,165.5 975.0,168.4 977.7,171.1C980.4,173.8 980.8,174.6 984.7,179.3C988.6,184.0 996.6,193.6 1000.9,199.3C1005.1,205.0 1007.1,208.3 1010.2,213.3C1013.3,218.3 1016.8,224.1 1019.5,229.5C1022.2,234.9 1024.2,240.4 1026.5,245.8C1028.8,251.2 1031.2,257.1 1033.5,262.1C1035.8,267.1 1038.2,271.7 1040.5,276.0C1042.8,280.3 1045.5,283.8 1047.4,287.7C1049.3,291.6 1050.5,295.4 1052.1,299.3C1053.6,303.2 1054.0,304.8 1056.7,310.9C1059.4,316.9 1065.3,329.2 1068.4,335.6C1071.5,342.1 1073.0,344.2 1075.3,349.6C1077.6,355.0 1080.0,362.8 1082.3,368.2C1084.6,373.6 1087.0,377.5 1089.3,382.1C1091.6,386.8 1094.0,391.5 1096.3,396.1C1098.6,400.8 1101.0,405.7 1103.3,410.0C1105.6,414.3 1107.9,417.8 1110.2,421.7C1112.5,425.6 1114.9,429.9 1117.2,433.3C1119.5,436.7 1121.9,438.6 1124.0,442.0C1126.1,445.4 1127.7,449.3 1129.8,453.6C1131.9,457.9 1134.4,463.3 1136.7,467.6C1139.0,471.9 1141.4,475.3 1143.7,479.2C1146.0,483.1 1148.4,487.5 1150.7,490.8C1153.0,494.1 1155.4,496.5 1157.7,499.0C1160.0,501.5 1162.4,503.9 1164.7,506.0C1167.0,508.1 1169.3,510.1 1171.6,511.8C1173.9,513.5 1175.9,515.0 1178.6,516.4C1181.3,517.8 1184.8,518.9 1187.9,519.9C1191.0,520.9 1194.1,521.2 1197.2,522.2C1200.3,523.2 1203.4,524.7 1206.5,525.7C1209.6,526.7 1212.7,527.3 1215.8,528.0C1218.9,528.7 1221.2,529.4 1225.1,529.9C1229.0,530.4 1234.9,530.8 1239.1,531.1C1243.3,531.4 1248.3,531.4 1250.2,531.5" fill="none" stroke="#0B4F94" stroke-width="2.1" stroke-linejoin="round"/>
<path d="M95.6,524.2C95.9,524.0 96.3,523.7 97.7,523.1C99.1,522.5 101.7,521.6 103.9,520.8C106.1,519.9 108.6,518.8 110.9,518.0C113.2,517.2 115.6,516.4 117.9,515.9C120.2,515.4 122.5,515.0 124.8,514.9C127.1,514.8 129.5,515.5 131.8,515.5C134.1,515.5 136.4,515.8 138.7,515.2C141.0,514.6 143.4,512.8 145.7,511.7C148.0,510.6 150.4,509.7 152.7,508.6C155.0,507.6 157.3,506.6 159.6,505.4C161.9,504.2 164.3,502.6 166.6,501.3C168.9,500.0 171.3,499.2 173.6,497.8C175.9,496.4 178.2,494.3 180.5,492.9C182.8,491.4 185.2,490.4 187.5,489.1C189.8,487.8 192.2,486.5 194.5,485.2C196.8,483.9 199.3,482.1 201.4,481.1C203.5,480.1 204.9,480.0 207.0,479.2C209.1,478.4 211.6,477.3 213.9,476.4C216.2,475.5 218.6,474.8 220.9,473.6C223.2,472.4 225.6,471.0 227.9,469.4C230.2,467.8 232.5,466.1 234.8,463.9C237.1,461.7 239.5,459.0 241.8,456.2C244.1,453.4 246.4,450.0 248.7,447.2C251.0,444.4 253.4,441.7 255.7,439.5C258.0,437.3 260.4,435.8 262.7,433.9C265.0,432.0 267.3,430.2 269.6,428.4C271.9,426.5 273.8,425.4 276.6,422.8C279.4,420.2 282.9,417.1 286.5,412.7C290.1,408.3 294.2,401.2 298.1,396.4C302.0,391.5 305.9,387.7 309.8,383.6C313.7,379.5 317.5,375.7 321.4,372.0C325.3,368.3 329.1,365.0 333.0,361.5C336.9,358.0 340.8,354.5 344.7,351.0C348.6,347.5 352.4,343.4 356.3,340.6C360.2,337.8 364.0,336.3 367.9,334.0C371.8,331.7 375.6,328.8 379.5,326.6C383.4,324.4 387.3,322.3 391.2,320.8C395.1,319.3 398.9,319.1 402.8,317.8C406.7,316.5 410.5,314.5 414.4,313.1C418.3,311.7 422.3,310.9 426.0,309.2C429.7,307.5 432.8,304.5 436.5,303.1C440.2,301.7 444.2,301.5 448.1,300.7C452.0,299.9 455.9,300.3 459.8,298.4C463.7,296.5 467.5,291.9 471.4,289.1C475.3,286.3 479.1,283.3 483.0,281.4C486.9,279.5 490.8,279.4 494.7,277.5C498.6,275.6 502.4,272.3 506.3,269.8C510.2,267.3 514.0,265.1 517.9,262.4C521.8,259.7 526.0,255.6 529.5,253.5C533.0,251.4 535.3,250.4 538.8,249.6C542.3,248.8 547.0,250.1 550.5,248.9C554.0,247.7 556.7,245.6 559.8,242.6C562.9,239.6 566.4,234.3 569.1,231.0C571.8,227.7 572.9,225.9 576.0,222.8C579.1,219.7 583.8,215.7 587.7,212.4C591.6,209.1 595.4,206.4 599.3,203.1C603.2,199.8 607.0,195.3 610.9,192.6C614.8,189.9 618.7,188.9 622.6,186.8C626.5,184.7 631.3,182.0 634.2,179.8C637.1,177.6 637.1,176.4 640.0,173.4C642.9,170.4 647.7,165.1 651.6,161.8C655.5,158.5 659.4,156.2 663.3,153.7C667.2,151.2 671.0,148.8 674.9,146.7C678.8,144.6 682.6,142.4 686.5,140.9C690.4,139.4 694.2,139.2 698.1,137.4C702.0,135.7 705.9,132.7 709.8,130.4C713.7,128.1 717.5,125.3 721.4,123.4C725.3,121.5 729.1,120.3 733.0,118.8C736.9,117.2 740.8,115.4 744.7,114.1C748.6,112.8 752.4,112.2 756.3,110.7C760.2,109.2 764.0,106.4 767.9,104.8C771.8,103.2 775.6,102.8 779.5,101.3C783.4,99.8 787.3,97.4 791.2,95.5C795.1,93.6 798.9,91.4 802.8,89.7C806.7,88.0 810.5,86.4 814.4,85.1C818.3,83.8 822.9,83.0 826.0,82.0C829.1,81.0 830.7,80.0 833.0,79.3C835.3,78.6 837.7,78.2 840.0,78.1C842.3,78.0 844.7,78.1 847.0,78.6C849.3,79.1 851.3,80.2 854.0,81.1C856.7,82.0 860.2,82.9 863.3,83.9C866.4,85.0 869.8,86.2 872.6,87.4C875.4,88.6 876.8,90.1 880.0,90.9C883.2,91.8 887.0,92.2 891.6,92.5C896.2,92.8 903.6,93.0 907.9,92.5C912.2,92.0 914.1,90.6 917.2,89.7C920.3,88.8 923.2,87.6 926.5,86.9C929.8,86.2 933.5,85.8 937.0,85.8C940.5,85.8 943.7,86.2 947.4,86.9C951.1,87.6 955.6,88.5 959.1,89.7C962.6,91.0 965.3,92.3 968.4,94.4C971.5,96.5 975.0,99.6 977.7,102.5C980.4,105.4 982.4,108.9 984.7,111.8C987.0,114.7 989.3,116.7 991.6,120.0C993.9,123.3 996.3,128.3 998.6,131.6C1000.9,134.9 1003.3,137.0 1005.6,139.7C1007.9,142.4 1010.3,144.8 1012.6,147.9C1014.9,151.0 1017.6,155.0 1019.5,158.3C1021.4,161.6 1022.2,164.1 1024.2,167.6C1026.2,171.1 1027.3,174.0 1031.2,179.3C1035.1,184.6 1043.5,194.0 1047.4,199.3C1051.3,204.6 1052.1,206.6 1054.4,210.9C1056.7,215.2 1059.5,220.6 1061.4,224.9C1063.3,229.2 1064.5,231.8 1066.0,236.5C1067.5,241.2 1068.8,247.0 1070.7,252.8C1072.7,258.6 1075.4,266.0 1077.7,271.4C1080.0,276.8 1082.4,280.6 1084.7,285.3C1087.0,290.0 1089.3,294.6 1091.6,299.3C1093.9,304.0 1095.1,307.2 1098.6,313.3C1102.1,319.4 1108.7,329.6 1112.6,335.6C1116.5,341.7 1118.8,345.3 1121.9,349.6C1125.0,353.9 1128.1,356.9 1131.2,361.2C1134.3,365.5 1137.4,370.5 1140.5,375.2C1143.6,379.9 1146.7,384.5 1149.8,389.1C1152.9,393.8 1156.4,398.8 1159.1,403.1C1161.8,407.4 1163.7,410.8 1166.0,414.7C1168.3,418.6 1170.7,422.8 1173.0,426.3C1175.3,429.8 1178.1,433.0 1180.0,435.6C1181.9,438.2 1182.3,438.8 1184.4,442.0C1186.5,445.2 1189.7,450.4 1192.6,454.8C1195.5,459.2 1198.8,464.2 1201.9,468.7C1205.0,473.1 1208.1,478.0 1211.2,481.5C1214.3,485.0 1217.4,487.4 1220.5,489.7C1223.6,492.0 1226.7,493.8 1229.8,495.5C1232.9,497.2 1235.7,498.6 1239.1,500.1C1242.5,501.7 1248.3,504.0 1250.2,504.8" fill="none" stroke="#00205E" stroke-width="2.1" stroke-linejoin="round"/>
<g id="axes"><line x1="95.5" y1="47.5" x2="95.5" y2="539.4" stroke="#7a7a7a" stroke-width="1"/>
<line x1="1250.5" y1="47.5" x2="1250.5" y2="532.4" stroke="#6e6e6e" stroke-width="1"/>
<line x1="89.5" y1="532.5" x2="1256.5" y2="532.5" stroke="#7a7a7a" stroke-width="1"/>
<line x1="89.5" y1="532.5" x2="95.5" y2="532.5" stroke="#868686" stroke-width="1.1"/>
<line x1="1250.5" y1="532.5" x2="1256.5" y2="532.5" stroke="#868686" stroke-width="1.1"/>
<line x1="95.5" y1="524.5" x2="100.5" y2="524.5" stroke="#868686" stroke-width="1"/>
<line x1="95.5" y1="517.5" x2="100.5" y2="517.5" stroke="#868686" stroke-width="1"/>
<line x1="95.5" y1="510.5" x2="100.5" y2="510.5" stroke="#868686" stroke-width="1"/>
<line x1="95.5" y1="502.5" x2="100.5" y2="502.5" stroke="#868686" stroke-width="1"/>
<line x1="89.5" y1="495.5" x2="95.5" y2="495.5" stroke="#868686" stroke-width="1.1"/>
<line x1="1250.5" y1="495.5" x2="1256.5" y2="495.5" stroke="#868686" stroke-width="1.1"/>
<line x1="95.5" y1="487.5" x2="100.5" y2="487.5" stroke="#868686" stroke-width="1"/>
<line x1="95.5" y1="480.5" x2="100.5" y2="480.5" stroke="#868686" stroke-width="1"/>
<line x1="95.5" y1="472.5" x2="100.5" y2="472.5" stroke="#868686" stroke-width="1"/>
<line x1="95.5" y1="465.5" x2="100.5" y2="465.5" stroke="#868686" stroke-width="1"/>
<line x1="89.5" y1="457.5" x2="95.5" y2="457.5" stroke="#868686" stroke-width="1.1"/>
<line x1="1250.5" y1="457.5" x2="1256.5" y2="457.5" stroke="#868686" stroke-width="1.1"/>
<line x1="95.5" y1="450.5" x2="100.5" y2="450.5" stroke="#868686" stroke-width="1"/>
<line x1="95.5" y1="442.5" x2="100.5" y2="442.5" stroke="#868686" stroke-width="1"/>
<line x1="95.5" y1="435.5" x2="100.5" y2="435.5" stroke="#868686" stroke-width="1"/>
<line x1="95.5" y1="427.5" x2="100.5" y2="427.5" stroke="#868686" stroke-width="1"/>
<line x1="89.5" y1="420.5" x2="95.5" y2="420.5" stroke="#868686" stroke-width="1.1"/>
<line x1="1250.5" y1="420.5" x2="1256.5" y2="420.5" stroke="#868686" stroke-width="1.1"/>
<line x1="95.5" y1="413.5" x2="100.5" y2="413.5" stroke="#868686" stroke-width="1"/>
<line x1="95.5" y1="405.5" x2="100.5" y2="405.5" stroke="#868686" stroke-width="1"/>
<line x1="95.5" y1="398.5" x2="100.5" y2="398.5" stroke="#868686" stroke-width="1"/>
<line x1="95.5" y1="390.5" x2="100.5" y2="390.5" stroke="#868686" stroke-width="1"/>
<line x1="89.5" y1="383.5" x2="95.5" y2="383.5" stroke="#868686" stroke-width="1.1"/>
<line x1="1250.5" y1="383.5" x2="1256.5" y2="383.5" stroke="#868686" stroke-width="1.1"/>
<line x1="95.5" y1="375.5" x2="100.5" y2="375.5" stroke="#868686" stroke-width="1"/>
<line x1="95.5" y1="368.5" x2="100.5" y2="368.5" stroke="#868686" stroke-width="1"/>
<line x1="95.5" y1="360.5" x2="100.5" y2="360.5" stroke="#868686" stroke-width="1"/>
<line x1="95.5" y1="353.5" x2="100.5" y2="353.5" stroke="#868686" stroke-width="1"/>
<line x1="89.5" y1="345.5" x2="95.5" y2="345.5" stroke="#868686" stroke-width="1.1"/>
<line x1="1250.5" y1="345.5" x2="1256.5" y2="345.5" stroke="#868686" stroke-width="1.1"/>
<line x1="95.5" y1="338.5" x2="100.5" y2="338.5" stroke="#868686" stroke-width="1"/>
<line x1="95.5" y1="330.5" x2="100.5" y2="330.5" stroke="#868686" stroke-width="1"/>
<line x1="95.5" y1="323.5" x2="100.5" y2="323.5" stroke="#868686" stroke-width="1"/>
<line x1="95.5" y1="316.5" x2="100.5" y2="316.5" stroke="#868686" stroke-width="1"/>
<line x1="89.5" y1="308.5" x2="95.5" y2="308.5" stroke="#868686" stroke-width="1.1"/>
<line x1="1250.5" y1="308.5" x2="1256.5" y2="308.5" stroke="#868686" stroke-width="1.1"/>
<line x1="95.5" y1="301.5" x2="100.5" y2="301.5" stroke="#868686" stroke-width="1"/>
<line x1="95.5" y1="293.5" x2="100.5" y2="293.5" stroke="#868686" stroke-width="1"/>
<line x1="95.5" y1="286.5" x2="100.5" y2="286.5" stroke="#868686" stroke-width="1"/>
<line x1="95.5" y1="278.5" x2="100.5" y2="278.5" stroke="#868686" stroke-width="1"/>
<line x1="89.5" y1="271.5" x2="95.5" y2="271.5" stroke="#868686" stroke-width="1.1"/>
<line x1="1250.5" y1="271.5" x2="1256.5" y2="271.5" stroke="#868686" stroke-width="1.1"/>
<line x1="95.5" y1="263.5" x2="100.5" y2="263.5" stroke="#868686" stroke-width="1"/>
<line x1="95.5" y1="256.5" x2="100.5" y2="256.5" stroke="#868686" stroke-width="1"/>
<line x1="95.5" y1="248.5" x2="100.5" y2="248.5" stroke="#868686" stroke-width="1"/>
<line x1="95.5" y1="241.5" x2="100.5" y2="241.5" stroke="#868686" stroke-width="1"/>
<line x1="89.5" y1="234.5" x2="95.5" y2="234.5" stroke="#868686" stroke-width="1.1"/>
<line x1="1250.5" y1="234.5" x2="1256.5" y2="234.5" stroke="#868686" stroke-width="1.1"/>
<line x1="95.5" y1="226.5" x2="100.5" y2="226.5" stroke="#868686" stroke-width="1"/>
<line x1="95.5" y1="219.5" x2="100.5" y2="219.5" stroke="#868686" stroke-width="1"/>
<line x1="95.5" y1="211.5" x2="100.5" y2="211.5" stroke="#868686" stroke-width="1"/>
<line x1="95.5" y1="204.5" x2="100.5" y2="204.5" stroke="#868686" stroke-width="1"/>
<line x1="89.5" y1="196.5" x2="95.5" y2="196.5" stroke="#868686" stroke-width="1.1"/>
<line x1="1250.5" y1="196.5" x2="1256.5" y2="196.5" stroke="#868686" stroke-width="1.1"/>
<line x1="95.5" y1="189.5" x2="100.5" y2="189.5" stroke="#868686" stroke-width="1"/>
<line x1="95.5" y1="181.5" x2="100.5" y2="181.5" stroke="#868686" stroke-width="1"/>
<line x1="95.5" y1="174.5" x2="100.5" y2="174.5" stroke="#868686" stroke-width="1"/>
<line x1="95.5" y1="166.5" x2="100.5" y2="166.5" stroke="#868686" stroke-width="1"/>
<line x1="89.5" y1="159.5" x2="95.5" y2="159.5" stroke="#868686" stroke-width="1.1"/>
<line x1="1250.5" y1="159.5" x2="1256.5" y2="159.5" stroke="#868686" stroke-width="1.1"/>
<line x1="95.5" y1="151.5" x2="100.5" y2="151.5" stroke="#868686" stroke-width="1"/>
<line x1="95.5" y1="144.5" x2="100.5" y2="144.5" stroke="#868686" stroke-width="1"/>
<line x1="95.5" y1="137.5" x2="100.5" y2="137.5" stroke="#868686" stroke-width="1"/>
<line x1="95.5" y1="129.5" x2="100.5" y2="129.5" stroke="#868686" stroke-width="1"/>
<line x1="89.5" y1="122.5" x2="95.5" y2="122.5" stroke="#868686" stroke-width="1.1"/>
<line x1="1250.5" y1="122.5" x2="1256.5" y2="122.5" stroke="#868686" stroke-width="1.1"/>
<line x1="95.5" y1="114.5" x2="100.5" y2="114.5" stroke="#868686" stroke-width="1"/>
<line x1="95.5" y1="107.5" x2="100.5" y2="107.5" stroke="#868686" stroke-width="1"/>
<line x1="95.5" y1="99.5" x2="100.5" y2="99.5" stroke="#868686" stroke-width="1"/>
<line x1="95.5" y1="92.5" x2="100.5" y2="92.5" stroke="#868686" stroke-width="1"/>
<line x1="89.5" y1="84.5" x2="95.5" y2="84.5" stroke="#868686" stroke-width="1.1"/>
<line x1="1250.5" y1="84.5" x2="1256.5" y2="84.5" stroke="#868686" stroke-width="1.1"/>
<line x1="95.5" y1="77.5" x2="100.5" y2="77.5" stroke="#868686" stroke-width="1"/>
<line x1="95.5" y1="69.5" x2="100.5" y2="69.5" stroke="#868686" stroke-width="1"/>
<line x1="95.5" y1="62.5" x2="100.5" y2="62.5" stroke="#868686" stroke-width="1"/>
<line x1="95.5" y1="54.5" x2="100.5" y2="54.5" stroke="#868686" stroke-width="1"/>
<line x1="89.5" y1="47.5" x2="95.5" y2="47.5" stroke="#868686" stroke-width="1.1"/>
<line x1="1250.5" y1="47.5" x2="1256.5" y2="47.5" stroke="#868686" stroke-width="1.1"/>
<line x1="95.5" y1="530.0" x2="1250.5" y2="530.0" stroke="#707070" stroke-width="5" stroke-dasharray="0.9 2.873" stroke-dashoffset="0.45"/>
<line x1="95.5" y1="532.5" x2="95.5" y2="539.5" stroke="#868686" stroke-width="1.1"/>
<line x1="212.5" y1="532.5" x2="212.5" y2="539.5" stroke="#868686" stroke-width="1.1"/>
<line x1="325.7" y1="532.5" x2="325.7" y2="539.5" stroke="#868686" stroke-width="1.1"/>
<line x1="442.6" y1="532.5" x2="442.6" y2="539.5" stroke="#868686" stroke-width="1.1"/>
<line x1="559.6" y1="532.5" x2="559.6" y2="539.5" stroke="#868686" stroke-width="1.1"/>
<line x1="669.0" y1="532.5" x2="669.0" y2="539.5" stroke="#868686" stroke-width="1.1"/>
<line x1="786.0" y1="532.5" x2="786.0" y2="539.5" stroke="#868686" stroke-width="1.1"/>
<line x1="899.1" y1="532.5" x2="899.1" y2="539.5" stroke="#868686" stroke-width="1.1"/>
<line x1="1016.1" y1="532.5" x2="1016.1" y2="539.5" stroke="#868686" stroke-width="1.1"/>
<line x1="1129.3" y1="532.5" x2="1129.3" y2="539.5" stroke="#868686" stroke-width="1.1"/>
<line x1="1246.3" y1="532.5" x2="1246.3" y2="539.5" stroke="#868686" stroke-width="1.1"/></g>
<g clip-path="url(#plot2)">
<path d="M95.6,531.5C103.9,531.3 136.2,531.0 145.7,530.5C155.2,530.0 150.4,529.0 152.7,528.4C155.0,527.8 157.3,527.5 159.6,527.0C161.9,526.5 164.3,526.0 166.6,525.6C168.9,525.2 171.3,524.8 173.6,524.5C175.9,524.2 178.2,524.3 180.5,524.0C182.8,523.7 185.6,523.3 187.5,522.9C189.4,522.5 189.8,522.2 191.7,521.5C193.5,520.8 196.3,519.8 198.6,518.7C200.9,517.7 203.3,516.4 205.6,515.2C207.9,514.0 210.3,512.8 212.6,511.7C214.9,510.6 217.2,509.8 219.5,508.9C221.8,508.0 224.2,507.0 226.5,506.1C228.8,505.2 231.2,504.2 233.5,503.4C235.8,502.6 237.2,502.6 240.4,501.3C243.6,500.1 249.7,497.4 252.9,495.9C256.1,494.4 257.6,493.8 259.9,492.4C262.2,491.0 264.6,489.0 266.9,487.5C269.2,486.0 271.5,484.8 273.8,483.4C276.1,482.0 278.5,480.5 280.8,479.2C283.1,477.9 285.4,476.8 287.7,475.7C290.0,474.6 292.4,473.8 294.7,472.9C297.0,472.0 299.4,470.9 301.7,470.1C304.0,469.3 306.3,468.9 308.6,468.1C310.9,467.3 313.3,466.4 315.6,465.3C317.9,464.2 320.3,463.0 322.6,461.8C324.9,460.6 327.2,459.6 329.5,458.3C331.8,457.0 334.2,455.6 336.5,454.1C338.8,452.6 341.2,450.8 343.5,449.2C345.8,447.6 348.1,445.9 350.4,444.4C352.7,442.9 355.1,441.6 357.4,440.2C359.7,438.8 362.0,437.4 364.3,436.0C366.6,434.6 368.4,433.2 371.3,431.8C374.2,430.4 378.9,429.1 381.8,427.9C384.7,426.7 386.4,425.7 388.7,424.4C391.0,423.1 393.4,421.6 395.7,420.2C398.0,418.8 400.4,417.1 402.7,416.0C405.0,414.9 407.3,414.4 409.6,413.9C411.9,413.4 414.3,413.7 416.6,413.2C418.9,412.7 421.3,412.0 423.6,411.1C425.9,410.2 428.2,408.9 430.5,407.7C432.8,406.5 435.2,405.1 437.5,404.2C439.8,403.3 442.2,402.7 444.5,402.1C446.8,401.5 448.7,402.2 451.4,400.7C454.1,399.2 457.4,395.8 460.9,392.9C464.4,390.0 468.7,386.5 472.6,383.6C476.5,380.7 480.3,377.9 484.2,375.4C488.1,372.9 493.2,369.9 495.8,368.5C498.4,367.1 497.4,368.4 500.0,367.2C502.6,366.0 507.7,363.5 511.6,361.4C515.5,359.3 519.4,356.7 523.3,354.4C527.2,352.1 531.0,349.7 534.9,347.4C538.8,345.1 542.6,342.8 546.5,340.5C550.4,338.2 554.2,335.8 558.1,333.5C562.0,331.2 565.9,328.6 569.8,326.5C573.7,324.4 577.5,322.6 581.4,320.7C585.3,318.8 589.1,316.4 593.0,314.9C596.9,313.3 600.8,312.4 604.7,311.4C608.6,310.4 612.4,309.6 616.3,309.1C620.2,308.6 624.0,309.2 627.9,308.4C631.8,307.6 637.5,304.9 639.5,304.4C641.5,303.8 638.0,306.3 640.0,305.1C642.0,303.9 647.7,299.7 651.6,297.0C655.5,294.3 659.4,291.1 663.3,288.8C667.2,286.5 671.0,284.6 674.9,283.0C678.8,281.4 682.6,280.9 686.5,279.5C690.4,278.1 694.2,276.4 698.1,274.9C702.0,273.3 705.9,271.9 709.8,270.2C713.7,268.4 717.5,265.9 721.4,264.4C725.3,262.8 729.1,262.0 733.0,260.9C736.9,259.8 740.8,258.9 744.7,257.9C748.6,256.9 752.4,255.9 756.3,255.1C760.2,254.3 764.0,253.9 767.9,253.3C771.8,252.7 775.6,252.2 779.5,251.6C783.4,251.0 787.3,250.8 791.2,250.0C795.1,249.2 798.9,248.1 802.8,247.0C806.7,245.9 810.5,244.9 814.4,243.5C818.3,242.1 822.1,240.6 826.0,238.8C829.9,237.1 833.8,234.7 837.7,233.0C841.6,231.3 845.8,229.4 849.3,228.4C852.8,227.4 855.5,227.0 858.6,227.2C861.7,227.4 864.3,228.4 867.9,229.5C871.5,230.6 876.4,232.1 880.0,233.7C883.6,235.2 886.2,237.0 889.3,238.8C892.4,240.6 895.5,243.1 898.6,244.7C901.7,246.2 904.4,247.3 907.9,248.1C911.4,248.9 915.6,248.7 919.5,249.3C923.4,249.9 927.7,250.4 931.2,251.6C934.7,252.8 937.4,254.2 940.5,256.3C943.6,258.4 946.7,261.1 949.8,264.4C952.9,267.7 956.4,272.1 959.1,276.0C961.8,279.9 963.7,284.6 966.0,287.7C968.3,290.8 970.7,292.4 973.0,294.7C975.3,297.0 977.7,298.5 980.0,301.6C982.3,304.7 984.9,309.6 987.0,313.3C989.1,317.0 990.5,319.5 992.8,324.0C995.1,328.5 998.0,335.3 1000.9,340.3C1003.8,345.3 1007.1,349.9 1010.2,354.2C1013.3,358.5 1016.4,361.2 1019.5,365.9C1022.6,370.5 1026.1,377.1 1028.8,382.1C1031.5,387.1 1033.5,392.6 1035.8,396.1C1038.1,399.6 1040.1,399.6 1042.8,403.1C1045.5,406.6 1049.0,412.4 1052.1,417.0C1055.2,421.6 1058.5,426.1 1061.4,431.0C1064.3,435.9 1067.6,443.3 1069.3,446.7C1071.0,450.1 1069.6,448.4 1071.6,451.3C1073.6,454.2 1078.8,461.1 1081.4,464.4C1084.0,467.7 1084.9,468.8 1087.0,471.3C1089.1,473.9 1091.9,476.9 1094.0,479.7C1096.1,482.5 1097.9,485.2 1099.5,488.0C1101.1,490.8 1102.3,494.1 1103.7,496.4C1105.1,498.7 1106.1,500.1 1107.9,502.0C1109.8,503.9 1112.2,505.6 1114.8,507.5C1117.3,509.4 1120.4,511.2 1123.2,513.1C1126.0,515.0 1128.8,517.0 1131.6,518.7C1134.4,520.4 1136.9,521.9 1139.9,523.5C1143.0,525.1 1147.3,527.0 1149.9,528.1C1152.5,529.2 1152.8,529.4 1155.3,529.9C1157.8,530.4 1148.9,530.8 1164.7,531.1C1180.5,531.4 1236.0,531.7 1250.2,531.8" fill="none" stroke="#fff" stroke-width="4.1" stroke-linejoin="round" stroke-linecap="round" filter="url(#lsh)"/>
<path d="M95.6,530.9L173.6,530.7L183.3,527.7L187.5,525.6L191.7,523.5L195.8,518.7L200.0,513.1L204.2,508.9L208.4,505.4L212.6,503.4L218.1,502.0L223.7,501.7L227.9,493.8L232.0,490.3L237.6,488.9L248.7,488.9L262.7,488.9L272.4,488.7L280.8,488.2L287.7,486.9L293.3,484.8L298.9,479.9L304.5,474.3L310.0,466.7L312.8,464.6L318.4,464.6L322.6,461.1L326.7,459.4L332.3,459.7L339.3,459.0L346.2,457.6L351.8,456.2L357.4,452.7L363.0,449.2L368.5,448.6L374.1,447.2L379.9,446.5L384.6,447.1L392.9,446.7L399.9,445.7L406.9,444.6L412.4,440.4L418.0,434.1L423.6,427.2L429.1,423.0L434.7,419.5L441.7,416.0L448.6,413.9L455.6,413.9L462.6,412.5L470.0,409.4L478.4,405.3L488.1,403.2L493.7,398.3L504.8,395.5L516.0,391.3L525.7,387.2L534.1,383.0L542.4,378.8L550.8,377.4L559.1,375.3L567.5,371.1L575.8,366.3L583.5,361.1L593.0,349.8L600.0,346.3L607.0,339.3L614.0,338.1L620.9,334.7L630.2,326.5L639.5,316.0L640.0,316.7L647.0,315.6L654.0,308.6L660.9,306.3L670.2,305.1L677.2,298.1L686.5,295.8L698.1,294.7L705.1,292.3L709.8,294.2L719.1,286.5L728.4,284.9L740.0,283.5L751.6,284.2L760.9,281.9L770.2,279.5L781.9,278.8L788.8,276.0L800.5,274.9L812.1,270.2L821.4,264.4L828.4,258.6L837.7,256.3L849.3,250.0L856.3,250.5L863.3,248.1L872.6,244.7L880.0,244.0L887.0,244.7L891.6,248.1L896.3,257.4L900.9,266.7L903.6,270.0L907.8,278.3L911.9,286.7L917.5,295.0L923.1,301.2L930.0,307.5L935.6,313.1L939.7,318.6L943.9,326.9L946.7,333.9L949.4,342.2L952.2,350.0L959.1,368.2L964.9,382.1L969.5,398.4L975.3,417.0L982.3,424.0L989.3,431.0L997.2,449.0L998.4,451.3L1001.3,456.0L1004.8,463.0L1010.4,471.3L1016.0,478.3L1021.5,483.2L1024.3,489.4L1028.5,495.7L1035.5,502.0L1041.0,507.5L1046.6,514.5L1052.2,520.8L1057.7,525.6L1064.7,529.5L1074.5,531.3L1250.2,531.7" fill="none" stroke="#7030A0" stroke-width="2.8" stroke-linejoin="round" stroke-linecap="butt" filter="url(#psh)"/>
<path d="M95.6,529.8L184.7,529.8L187.5,529.1L194.5,527.7L201.4,526.8L208.4,525.6L215.3,524.9L222.3,522.9L226.5,521.2L232.1,520.8L237.6,519.4L243.2,519.4L247.4,518.0L250.2,514.5L254.3,508.9L258.5,504.7L264.1,503.4L268.3,502.2L278.0,497.3L283.6,495.2L290.5,493.5L297.5,492.7L311.4,492.7L322.6,492.7L328.1,491.0L333.7,488.2L339.3,481.3L343.5,477.1L349.0,475.0L353.2,474.3L357.4,473.6L360.2,470.1L364.3,468.1L371.3,466.7L379.9,464.6L381.8,464.1L388.7,462.0L395.7,459.9L402.7,457.1L409.6,453.6L416.6,451.5L423.6,448.1L429.1,446.0L434.7,445.7L440.3,446.7L448.6,446.0L455.6,444.8L461.2,440.4L465.3,436.9L470.9,434.8L475.1,429.2L479.3,425.8L487.6,425.3L496.0,425.1L501.6,423.7L507.1,420.9L512.7,416.7L516.9,413.2L523.3,410.2L534.9,405.6L541.9,400.9L548.8,398.6L553.5,400.9L565.1,401.4L576.7,399.8L588.4,397.4L597.7,396.3L602.3,392.8L609.3,392.8L614.0,388.1L620.9,388.8L630.2,389.8L639.5,389.3L646.5,387.0L653.5,378.8L660.5,371.9L665.1,361.4L672.1,356.3" fill="none" stroke="#000" stroke-width="4.6" stroke-linejoin="round" stroke-linecap="round" filter="url(#ksh)"/>
</g>
<text class="tk" x="76.6" y="538.5" text-anchor="end" textLength="9.6" lengthAdjust="spacingAndGlyphs">0</text>
<text class="tk" x="76.6" y="501.2" text-anchor="end" textLength="28.9" lengthAdjust="spacingAndGlyphs">100</text>
<text class="tk" x="76.6" y="463.9" text-anchor="end" textLength="28.9" lengthAdjust="spacingAndGlyphs">200</text>
<text class="tk" x="76.6" y="426.6" text-anchor="end" textLength="28.9" lengthAdjust="spacingAndGlyphs">300</text>
<text class="tk" x="76.6" y="389.3" text-anchor="end" textLength="28.9" lengthAdjust="spacingAndGlyphs">400</text>
<text class="tk" x="76.6" y="352.0" text-anchor="end" textLength="28.9" lengthAdjust="spacingAndGlyphs">500</text>
<text class="tk" x="76.6" y="314.7" text-anchor="end" textLength="28.9" lengthAdjust="spacingAndGlyphs">600</text>
<text class="tk" x="76.6" y="277.4" text-anchor="end" textLength="28.9" lengthAdjust="spacingAndGlyphs">700</text>
<text class="tk" x="76.6" y="240.1" text-anchor="end" textLength="28.9" lengthAdjust="spacingAndGlyphs">800</text>
<text class="tk" x="76.6" y="202.8" text-anchor="end" textLength="28.9" lengthAdjust="spacingAndGlyphs">900</text>
<text class="tk" x="76.6" y="165.5" text-anchor="end" textLength="43.2" lengthAdjust="spacingAndGlyphs">1,000</text>
<text class="tk" x="76.6" y="128.2" text-anchor="end" textLength="43.2" lengthAdjust="spacingAndGlyphs">1,100</text>
<text class="tk" x="76.6" y="90.9" text-anchor="end" textLength="43.2" lengthAdjust="spacingAndGlyphs">1,200</text>
<text class="tk" x="76.6" y="53.6" text-anchor="end" textLength="43.2" lengthAdjust="spacingAndGlyphs">1,300</text>
<text class="tk" x="97.3" y="562.6" text-anchor="middle" textLength="52.1" lengthAdjust="spacingAndGlyphs">Oct-01</text>
<text class="tk" x="214.3" y="562.6" text-anchor="middle" textLength="56" lengthAdjust="spacingAndGlyphs">Nov-01</text>
<text class="tk" x="327.5" y="562.6" text-anchor="middle" textLength="54.3" lengthAdjust="spacingAndGlyphs">Dec-01</text>
<text class="tk" x="444.4" y="562.6" text-anchor="middle" textLength="50.2" lengthAdjust="spacingAndGlyphs">Jan-01</text>
<text class="tk" x="561.4" y="562.6" text-anchor="middle" textLength="53.2" lengthAdjust="spacingAndGlyphs">Feb-01</text>
<text class="tk" x="670.8" y="562.6" text-anchor="middle" textLength="57" lengthAdjust="spacingAndGlyphs">Mar-01</text>
<text class="tk" x="787.8" y="562.6" text-anchor="middle" textLength="52.7" lengthAdjust="spacingAndGlyphs">Apr-01</text>
<text class="tk" x="900.9" y="562.6" text-anchor="middle" textLength="59" lengthAdjust="spacingAndGlyphs">May-01</text>
<text class="tk" x="1017.9" y="562.6" text-anchor="middle" textLength="51.1" lengthAdjust="spacingAndGlyphs">Jun-01</text>
<text class="tk" x="1131.1" y="562.6" text-anchor="middle" textLength="45.5" lengthAdjust="spacingAndGlyphs">Jul-01</text>
<text class="tk" x="1248.1" y="562.6" text-anchor="middle" textLength="55" lengthAdjust="spacingAndGlyphs">Aug-01</text>
<text y="27.8" font-size="25.4" font-weight="bold"><tspan x="265.1" textLength="46.3" lengthAdjust="spacingAndGlyphs">B.C.</tspan> <tspan x="319.6" textLength="137.3" lengthAdjust="spacingAndGlyphs">Automated</tspan> <tspan x="464.2" textLength="67.0" lengthAdjust="spacingAndGlyphs">Snow</tspan> <tspan x="538.5" textLength="103.2" lengthAdjust="spacingAndGlyphs">Weather</tspan> <tspan x="650.5" textLength="86.6" lengthAdjust="spacingAndGlyphs">Station</tspan> <tspan x="745.0" textLength="129.5" lengthAdjust="spacingAndGlyphs">Composite</tspan> <tspan x="882.7" textLength="68.0" lengthAdjust="spacingAndGlyphs">(1988</tspan> <tspan x="958.6" textLength="8.8" lengthAdjust="spacingAndGlyphs">-</tspan> <tspan x="974.0" textLength="67.7" lengthAdjust="spacingAndGlyphs">2024)</tspan></text>
<text transform="translate(26.2,284.3) rotate(-90)" text-anchor="middle" font-size="23.5" textLength="307" lengthAdjust="spacingAndGlyphs">Snow Water Equivalent (mm)</text>
<g id="legend" transform="translate(0.5,0.5)"><rect x="132.8" y="71.1" width="168.6" height="235" fill="#D9D9D9" stroke="#4A7EBB" stroke-width="1.6" filter="url(#bsh)"/>
<rect x="156" y="80.5" width="31.4" height="10.6" fill="#1F3864" fill-opacity="0.7"/>
<rect x="156" y="109.5" width="31.4" height="10.6" fill="#0070C0" fill-opacity="0.7"/>
<rect x="156" y="139.1" width="31.4" height="10.6" fill="#548235" fill-opacity="0.7"/>
<rect x="152" y="164.5" width="39" height="18.8" rx="4" fill="#fff"/>
<line x1="160" y1="174.2" x2="183.3" y2="174.2" stroke="#9a9a9a" stroke-width="3"/>
<rect x="156" y="197.8" width="31.4" height="10.6" fill="#FFFF00" fill-opacity="0.7"/>
<rect x="155.2" y="226.6" width="32.4" height="11.8" fill="#FF4545" stroke="#FF0000" stroke-width="1.8"/>
<line x1="154.6" y1="262.4" x2="188" y2="262.4" stroke="#7030A0" stroke-width="2.6"/>
<line x1="156.5" y1="291.7" x2="186.5" y2="291.7" stroke="#000" stroke-width="5" stroke-linecap="round"/>
<text class="lg" x="191" y="92.0" textLength="85.3" lengthAdjust="spacingAndGlyphs">90th - Max</text>
<text class="lg" x="191" y="121.0" textLength="87.9" lengthAdjust="spacingAndGlyphs">75th - 90th</text>
<text class="lg" x="191" y="150.6" textLength="87.9" lengthAdjust="spacingAndGlyphs">25th - 75th</text>
<text class="lg" x="191" y="180.1" textLength="60.5" lengthAdjust="spacingAndGlyphs">Median</text>
<text class="lg" x="191" y="209.3" textLength="87.9" lengthAdjust="spacingAndGlyphs">10th - 25th</text>
<text class="lg" x="191" y="238.6" textLength="81.9" lengthAdjust="spacingAndGlyphs">Min - 10th</text>
<text class="lg" x="191" y="268.6" textLength="64.7" lengthAdjust="spacingAndGlyphs">2022-23</text>
<text class="lg" x="191" y="297.9" textLength="64.7" lengthAdjust="spacingAndGlyphs">2023-24</text></g>
</svg></body></html>
